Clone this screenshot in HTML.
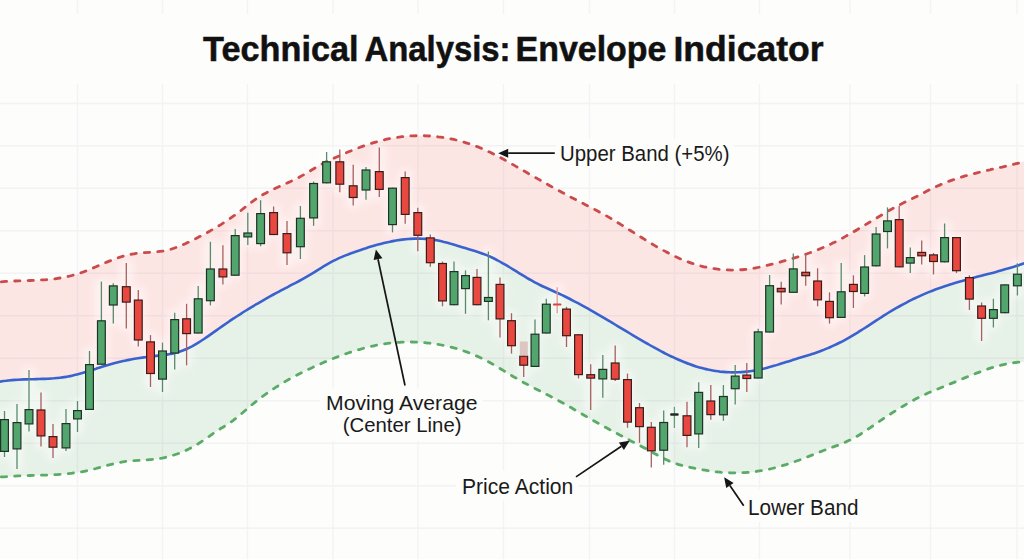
<!DOCTYPE html>
<html><head><meta charset="utf-8"><style>
html,body{margin:0;padding:0;width:1024px;height:559px;overflow:hidden;background:#fdfdfc;}
svg{display:block;}
</style></head><body>
<svg width="1024" height="559" viewBox="0 0 1024 559">
<rect width="1024" height="559" fill="#fdfdfc"/>
<path d="M-12.0 283.3 C-10.0 283.0 -8.0 282.7 -6.0 282.5 C-4.0 282.2 -2.0 282.0 0.0 281.9 C2.0 281.7 4.0 281.6 6.0 281.4 C8.0 281.3 10.0 281.2 12.0 281.1 C14.0 281.0 16.0 281.0 18.0 280.9 C20.0 280.8 22.0 280.8 24.0 280.7 C26.0 280.6 28.0 280.6 30.0 280.5 C32.0 280.4 34.0 280.4 36.0 280.3 C38.0 280.2 40.0 280.1 42.0 279.9 C44.0 279.8 46.0 279.7 48.0 279.5 C50.0 279.3 52.0 279.1 54.0 278.9 C56.0 278.6 58.0 278.3 60.0 278.0 C62.0 277.7 64.0 277.3 66.0 276.9 C68.0 276.5 70.0 276.1 72.0 275.5 C74.0 275.0 76.0 274.4 78.0 273.8 C80.0 273.2 82.0 272.5 84.0 271.7 C86.0 271.0 88.0 270.1 90.0 269.3 C92.0 268.5 94.0 267.6 96.0 266.8 C98.0 265.9 100.0 265.0 102.0 264.2 C104.0 263.3 106.0 262.4 108.0 261.6 C110.0 260.8 112.0 260.0 114.0 259.2 C116.0 258.5 118.0 257.8 120.0 257.2 C122.0 256.5 124.0 255.9 126.0 255.4 C128.0 254.9 130.0 254.4 132.0 254.1 C134.0 253.7 136.0 253.4 138.0 253.1 C140.0 252.9 142.0 252.7 144.0 252.6 C146.0 252.5 148.0 252.4 150.0 252.3 C152.0 252.1 154.0 252.1 156.0 251.9 C158.0 251.7 160.0 251.5 162.0 251.2 C164.0 250.9 166.0 250.5 168.0 250.0 C170.0 249.5 172.0 248.9 174.0 248.2 C176.0 247.5 178.0 246.8 180.0 246.0 C182.0 245.2 184.0 244.3 186.0 243.4 C188.0 242.5 190.0 241.5 192.0 240.6 C194.0 239.6 196.0 238.5 198.0 237.5 C200.0 236.5 202.0 235.4 204.0 234.3 C206.0 233.2 208.0 232.1 210.0 231.0 C212.0 229.9 214.0 228.7 216.0 227.5 C218.0 226.3 220.0 225.1 222.0 223.8 C224.0 222.5 226.0 221.2 228.0 219.9 C230.0 218.5 232.0 217.1 234.0 215.7 C236.0 214.3 238.0 212.8 240.0 211.3 C242.0 209.7 244.0 208.1 246.0 206.5 C248.0 205.0 250.0 203.3 252.0 201.8 C254.0 200.4 256.0 198.9 258.0 197.6 C260.0 196.3 262.0 195.2 264.0 194.0 C266.0 192.9 268.0 191.9 270.0 190.8 C272.0 189.8 274.0 188.9 276.0 188.0 C278.0 187.1 280.0 186.2 282.0 185.3 C284.0 184.4 286.0 183.5 288.0 182.6 C290.0 181.7 292.0 180.8 294.0 179.8 C296.0 178.9 298.0 177.9 300.0 176.8 C302.0 175.7 304.0 174.6 306.0 173.4 C308.0 172.3 310.0 171.0 312.0 169.8 C314.0 168.6 316.0 167.4 318.0 166.3 C320.0 165.1 322.0 164.0 324.0 163.0 C326.0 161.9 328.0 161.0 330.0 160.0 C332.0 159.1 334.0 158.2 336.0 157.3 C338.0 156.3 340.0 155.5 342.0 154.6 C344.0 153.7 346.0 152.9 348.0 152.0 C350.0 151.2 352.0 150.4 354.0 149.6 C356.0 148.8 358.0 148.0 360.0 147.3 C362.0 146.5 364.0 145.8 366.0 145.1 C368.0 144.5 370.0 143.8 372.0 143.2 C374.0 142.6 376.0 142.0 378.0 141.4 C380.0 140.9 382.0 140.4 384.0 139.9 C386.0 139.4 388.0 139.0 390.0 138.6 C392.0 138.2 394.0 137.9 396.0 137.5 C398.0 137.2 400.0 137.0 402.0 136.7 C404.0 136.5 406.0 136.3 408.0 136.1 C410.0 136.0 412.0 135.9 414.0 135.8 C416.0 135.7 418.0 135.7 420.0 135.7 C422.0 135.7 424.0 135.7 426.0 135.8 C428.0 135.9 430.0 136.0 432.0 136.2 C434.0 136.3 436.0 136.5 438.0 136.8 C440.0 137.0 442.0 137.3 444.0 137.6 C446.0 137.9 448.0 138.3 450.0 138.7 C452.0 139.1 454.0 139.5 456.0 140.0 C458.0 140.5 460.0 141.0 462.0 141.5 C464.0 142.1 466.0 142.7 468.0 143.4 C470.0 144.0 472.0 144.7 474.0 145.5 C476.0 146.2 478.0 147.0 480.0 147.8 C482.0 148.6 484.0 149.5 486.0 150.4 C488.0 151.4 490.0 152.3 492.0 153.3 C494.0 154.3 496.0 155.3 498.0 156.4 C500.0 157.4 502.0 158.5 504.0 159.6 C506.0 160.7 508.0 161.8 510.0 162.9 C512.0 164.1 514.0 165.2 516.0 166.4 C518.0 167.5 520.0 168.7 522.0 169.8 C524.0 171.0 526.0 172.1 528.0 173.3 C530.0 174.4 532.0 175.6 534.0 176.7 C536.0 177.8 538.0 179.0 540.0 180.1 C542.0 181.3 544.0 182.4 546.0 183.5 C548.0 184.6 550.0 185.8 552.0 186.9 C554.0 188.0 556.0 189.1 558.0 190.2 C560.0 191.3 562.0 192.4 564.0 193.4 C566.0 194.5 568.0 195.6 570.0 196.7 C572.0 197.7 574.0 198.8 576.0 199.8 C578.0 200.9 580.0 201.9 582.0 202.9 C584.0 203.9 586.0 205.0 588.0 206.0 C590.0 207.0 592.0 208.0 594.0 209.1 C596.0 210.1 598.0 211.2 600.0 212.3 C602.0 213.4 604.0 214.5 606.0 215.6 C608.0 216.8 610.0 218.0 612.0 219.1 C614.0 220.3 616.0 221.6 618.0 222.8 C620.0 224.0 622.0 225.3 624.0 226.5 C626.0 227.7 628.0 229.0 630.0 230.3 C632.0 231.5 634.0 232.8 636.0 234.0 C638.0 235.3 640.0 236.6 642.0 237.8 C644.0 239.0 646.0 240.3 648.0 241.5 C650.0 242.7 652.0 243.9 654.0 245.1 C656.0 246.3 658.0 247.4 660.0 248.5 C662.0 249.7 664.0 250.8 666.0 251.8 C668.0 252.9 670.0 253.9 672.0 254.9 C674.0 255.9 676.0 256.9 678.0 257.8 C680.0 258.7 682.0 259.6 684.0 260.4 C686.0 261.2 688.0 261.9 690.0 262.6 C692.0 263.4 694.0 264.0 696.0 264.6 C698.0 265.2 700.0 265.8 702.0 266.3 C704.0 266.8 706.0 267.2 708.0 267.6 C710.0 268.0 712.0 268.4 714.0 268.7 C716.0 269.0 718.0 269.2 720.0 269.4 C722.0 269.6 724.0 269.8 726.0 269.9 C728.0 270.0 730.0 270.1 732.0 270.1 C734.0 270.1 736.0 270.0 738.0 269.9 C740.0 269.8 742.0 269.7 744.0 269.5 C746.0 269.3 748.0 269.1 750.0 268.8 C752.0 268.5 754.0 268.2 756.0 267.8 C758.0 267.5 760.0 267.1 762.0 266.6 C764.0 266.2 766.0 265.7 768.0 265.2 C770.0 264.7 772.0 264.2 774.0 263.7 C776.0 263.2 778.0 262.6 780.0 262.1 C782.0 261.5 784.0 260.9 786.0 260.4 C788.0 259.8 790.0 259.2 792.0 258.6 C794.0 258.0 796.0 257.4 798.0 256.8 C800.0 256.1 802.0 255.5 804.0 254.8 C806.0 254.1 808.0 253.4 810.0 252.7 C812.0 252.0 814.0 251.2 816.0 250.4 C818.0 249.7 820.0 248.9 822.0 248.0 C824.0 247.2 826.0 246.3 828.0 245.4 C830.0 244.4 832.0 243.5 834.0 242.5 C836.0 241.5 838.0 240.5 840.0 239.4 C842.0 238.4 844.0 237.3 846.0 236.1 C848.0 235.0 850.0 233.9 852.0 232.7 C854.0 231.6 856.0 230.4 858.0 229.2 C860.0 228.0 862.0 226.8 864.0 225.6 C866.0 224.4 868.0 223.2 870.0 222.0 C872.0 220.8 874.0 219.6 876.0 218.4 C878.0 217.2 880.0 216.0 882.0 214.8 C884.0 213.6 886.0 212.4 888.0 211.2 C890.0 210.1 892.0 208.9 894.0 207.8 C896.0 206.7 898.0 205.7 900.0 204.6 C902.0 203.6 904.0 202.6 906.0 201.6 C908.0 200.7 910.0 199.7 912.0 198.7 C914.0 197.8 916.0 196.8 918.0 195.8 C920.0 194.8 922.0 193.7 924.0 192.7 C926.0 191.6 928.0 190.5 930.0 189.5 C932.0 188.5 934.0 187.5 936.0 186.6 C938.0 185.7 940.0 184.8 942.0 184.0 C944.0 183.1 946.0 182.4 948.0 181.6 C950.0 180.9 952.0 180.1 954.0 179.5 C956.0 178.8 958.0 178.1 960.0 177.5 C962.0 176.9 964.0 176.3 966.0 175.7 C968.0 175.2 970.0 174.6 972.0 174.1 C974.0 173.6 976.0 173.1 978.0 172.6 C980.0 172.1 982.0 171.6 984.0 171.2 C986.0 170.7 988.0 170.2 990.0 169.8 C992.0 169.3 994.0 168.9 996.0 168.4 C998.0 168.0 1000.0 167.5 1002.0 167.1 C1004.0 166.6 1006.0 166.2 1008.0 165.7 C1010.0 165.2 1012.0 164.7 1014.0 164.2 C1016.0 163.7 1018.0 163.2 1020.0 162.7 C1022.0 162.1 1024.0 161.6 1026.0 161.0 C1028.0 160.4 1030.0 159.8 1032.0 159.2 L1032.0 260.5 C1030.0 261.2 1028.0 262.0 1026.0 262.7 C1024.0 263.4 1022.0 264.1 1020.0 264.7 C1018.0 265.4 1016.0 266.0 1014.0 266.7 C1012.0 267.3 1010.0 267.9 1008.0 268.5 C1006.0 269.1 1004.0 269.6 1002.0 270.2 C1000.0 270.8 998.0 271.3 996.0 271.9 C994.0 272.4 992.0 272.9 990.0 273.5 C988.0 274.0 986.0 274.5 984.0 275.0 C982.0 275.6 980.0 276.1 978.0 276.6 C976.0 277.2 974.0 277.7 972.0 278.2 C970.0 278.8 968.0 279.3 966.0 279.9 C964.0 280.4 962.0 281.0 960.0 281.5 C958.0 282.1 956.0 282.7 954.0 283.3 C952.0 283.9 950.0 284.6 948.0 285.2 C946.0 285.8 944.0 286.5 942.0 287.2 C940.0 287.9 938.0 288.6 936.0 289.3 C934.0 290.1 932.0 290.8 930.0 291.6 C928.0 292.4 926.0 293.3 924.0 294.1 C922.0 295.0 920.0 295.9 918.0 296.8 C916.0 297.8 914.0 298.7 912.0 299.7 C910.0 300.7 908.0 301.7 906.0 302.8 C904.0 303.8 902.0 304.9 900.0 306.0 C898.0 307.1 896.0 308.3 894.0 309.4 C892.0 310.6 890.0 311.8 888.0 313.0 C886.0 314.3 884.0 315.5 882.0 316.8 C880.0 318.1 878.0 319.4 876.0 320.7 C874.0 322.0 872.0 323.3 870.0 324.6 C868.0 325.9 866.0 327.2 864.0 328.5 C862.0 329.8 860.0 331.0 858.0 332.3 C856.0 333.5 854.0 334.7 852.0 335.9 C850.0 337.1 848.0 338.2 846.0 339.3 C844.0 340.4 842.0 341.5 840.0 342.5 C838.0 343.5 836.0 344.5 834.0 345.4 C832.0 346.4 830.0 347.2 828.0 348.1 C826.0 348.9 824.0 349.8 822.0 350.5 C820.0 351.3 818.0 352.0 816.0 352.7 C814.0 353.4 812.0 354.0 810.0 354.7 C808.0 355.3 806.0 355.9 804.0 356.5 C802.0 357.1 800.0 357.7 798.0 358.3 C796.0 358.9 794.0 359.6 792.0 360.2 C790.0 360.8 788.0 361.5 786.0 362.1 C784.0 362.7 782.0 363.4 780.0 364.0 C778.0 364.6 776.0 365.3 774.0 365.8 C772.0 366.4 770.0 367.0 768.0 367.5 C766.0 368.1 764.0 368.6 762.0 369.1 C760.0 369.5 758.0 369.9 756.0 370.3 C754.0 370.7 752.0 371.0 750.0 371.3 C748.0 371.6 746.0 371.8 744.0 371.9 C742.0 372.1 740.0 372.2 738.0 372.3 C736.0 372.4 734.0 372.4 732.0 372.4 C730.0 372.3 728.0 372.3 726.0 372.1 C724.0 372.0 722.0 371.8 720.0 371.6 C718.0 371.3 716.0 371.1 714.0 370.7 C712.0 370.4 710.0 370.0 708.0 369.6 C706.0 369.1 704.0 368.7 702.0 368.1 C700.0 367.6 698.0 367.0 696.0 366.4 C694.0 365.8 692.0 365.1 690.0 364.3 C688.0 363.6 686.0 362.8 684.0 362.0 C682.0 361.2 680.0 360.4 678.0 359.5 C676.0 358.6 674.0 357.7 672.0 356.7 C670.0 355.8 668.0 354.8 666.0 353.8 C664.0 352.8 662.0 351.7 660.0 350.7 C658.0 349.6 656.0 348.5 654.0 347.4 C652.0 346.3 650.0 345.2 648.0 344.0 C646.0 342.9 644.0 341.8 642.0 340.6 C640.0 339.4 638.0 338.3 636.0 337.1 C634.0 335.9 632.0 334.7 630.0 333.5 C628.0 332.3 626.0 331.1 624.0 329.9 C622.0 328.7 620.0 327.5 618.0 326.3 C616.0 325.1 614.0 323.9 612.0 322.7 C610.0 321.5 608.0 320.4 606.0 319.2 C604.0 318.0 602.0 316.8 600.0 315.6 C598.0 314.5 596.0 313.3 594.0 312.1 C592.0 311.0 590.0 309.9 588.0 308.7 C586.0 307.6 584.0 306.5 582.0 305.4 C580.0 304.3 578.0 303.2 576.0 302.2 C574.0 301.1 572.0 300.1 570.0 299.0 C568.0 298.0 566.0 297.0 564.0 296.0 C562.0 295.1 560.0 294.1 558.0 293.2 C556.0 292.3 554.0 291.4 552.0 290.5 C550.0 289.6 548.0 288.7 546.0 287.8 C544.0 286.9 542.0 286.0 540.0 285.0 C538.0 284.0 536.0 282.9 534.0 281.9 C532.0 280.8 530.0 279.6 528.0 278.5 C526.0 277.3 524.0 276.1 522.0 274.9 C520.0 273.7 518.0 272.4 516.0 271.2 C514.0 270.0 512.0 268.7 510.0 267.5 C508.0 266.3 506.0 265.1 504.0 263.9 C502.0 262.8 500.0 261.6 498.0 260.6 C496.0 259.5 494.0 258.5 492.0 257.5 C490.0 256.6 488.0 255.7 486.0 254.9 C484.0 254.1 482.0 253.4 480.0 252.7 C478.0 252.0 476.0 251.3 474.0 250.7 C472.0 250.1 470.0 249.5 468.0 248.9 C466.0 248.3 464.0 247.8 462.0 247.2 C460.0 246.6 458.0 245.9 456.0 245.3 C454.0 244.7 452.0 244.1 450.0 243.6 C448.0 243.0 446.0 242.4 444.0 242.0 C442.0 241.5 440.0 241.0 438.0 240.6 C436.0 240.2 434.0 239.8 432.0 239.6 C430.0 239.3 428.0 239.1 426.0 238.9 C424.0 238.7 422.0 238.7 420.0 238.6 C418.0 238.6 416.0 238.6 414.0 238.6 C412.0 238.7 410.0 238.8 408.0 239.0 C406.0 239.2 404.0 239.4 402.0 239.6 C400.0 239.9 398.0 240.2 396.0 240.5 C394.0 240.9 392.0 241.2 390.0 241.7 C388.0 242.1 386.0 242.5 384.0 243.0 C382.0 243.5 380.0 244.0 378.0 244.6 C376.0 245.1 374.0 245.7 372.0 246.3 C370.0 246.9 368.0 247.5 366.0 248.2 C364.0 248.8 362.0 249.5 360.0 250.2 C358.0 250.8 356.0 251.5 354.0 252.3 C352.0 253.0 350.0 253.7 348.0 254.5 C346.0 255.2 344.0 256.0 342.0 256.9 C340.0 257.7 338.0 258.6 336.0 259.6 C334.0 260.5 332.0 261.5 330.0 262.7 C328.0 263.8 326.0 265.0 324.0 266.2 C322.0 267.4 320.0 268.7 318.0 269.9 C316.0 271.2 314.0 272.5 312.0 273.7 C310.0 274.9 308.0 276.1 306.0 277.2 C304.0 278.4 302.0 279.5 300.0 280.5 C298.0 281.6 296.0 282.6 294.0 283.7 C292.0 284.7 290.0 285.7 288.0 286.8 C286.0 287.8 284.0 288.9 282.0 289.9 C280.0 291.0 278.0 292.1 276.0 293.1 C274.0 294.2 272.0 295.3 270.0 296.4 C268.0 297.5 266.0 298.7 264.0 299.8 C262.0 300.9 260.0 302.1 258.0 303.3 C256.0 304.4 254.0 305.6 252.0 306.8 C250.0 308.0 248.0 309.2 246.0 310.5 C244.0 311.7 242.0 313.0 240.0 314.3 C238.0 315.5 236.0 316.8 234.0 318.2 C232.0 319.5 230.0 320.8 228.0 322.2 C226.0 323.6 224.0 325.0 222.0 326.4 C220.0 327.8 218.0 329.2 216.0 330.6 C214.0 332.1 212.0 333.5 210.0 334.9 C208.0 336.3 206.0 337.7 204.0 339.0 C202.0 340.3 200.0 341.6 198.0 342.8 C196.0 344.0 194.0 345.2 192.0 346.3 C190.0 347.3 188.0 348.3 186.0 349.2 C184.0 350.1 182.0 350.9 180.0 351.5 C178.0 352.2 176.0 352.7 174.0 353.2 C172.0 353.7 170.0 354.0 168.0 354.4 C166.0 354.7 164.0 354.9 162.0 355.2 C160.0 355.5 158.0 355.7 156.0 355.9 C154.0 356.2 152.0 356.4 150.0 356.7 C148.0 356.9 146.0 357.2 144.0 357.4 C142.0 357.7 140.0 358.0 138.0 358.3 C136.0 358.6 134.0 358.9 132.0 359.3 C130.0 359.7 128.0 360.0 126.0 360.4 C124.0 360.8 122.0 361.3 120.0 361.7 C118.0 362.2 116.0 362.7 114.0 363.2 C112.0 363.8 110.0 364.4 108.0 365.0 C106.0 365.6 104.0 366.2 102.0 366.8 C100.0 367.5 98.0 368.1 96.0 368.8 C94.0 369.4 92.0 370.1 90.0 370.7 C88.0 371.4 86.0 372.0 84.0 372.6 C82.0 373.2 80.0 373.8 78.0 374.3 C76.0 374.8 74.0 375.3 72.0 375.7 C70.0 376.2 68.0 376.5 66.0 376.9 C64.0 377.2 62.0 377.5 60.0 377.7 C58.0 377.9 56.0 378.1 54.0 378.3 C52.0 378.4 50.0 378.6 48.0 378.7 C46.0 378.8 44.0 378.9 42.0 378.9 C40.0 379.0 38.0 379.0 36.0 379.1 C34.0 379.2 32.0 379.2 30.0 379.3 C28.0 379.3 26.0 379.4 24.0 379.4 C22.0 379.5 20.0 379.6 18.0 379.7 C16.0 379.8 14.0 380.0 12.0 380.1 C10.0 380.3 8.0 380.5 6.0 380.8 C4.0 381.0 2.0 381.3 0.0 381.6 C-2.0 382.0 -4.0 382.4 -6.0 382.8 C-8.0 383.3 -10.0 383.9 -12.0 384.4 Z" fill="#fce6e4"/>
<path d="M-12.0 384.4 C-10.0 383.9 -8.0 383.3 -6.0 382.8 C-4.0 382.4 -2.0 382.0 0.0 381.6 C2.0 381.3 4.0 381.0 6.0 380.8 C8.0 380.5 10.0 380.3 12.0 380.1 C14.0 380.0 16.0 379.8 18.0 379.7 C20.0 379.6 22.0 379.5 24.0 379.4 C26.0 379.4 28.0 379.3 30.0 379.3 C32.0 379.2 34.0 379.2 36.0 379.1 C38.0 379.0 40.0 379.0 42.0 378.9 C44.0 378.9 46.0 378.8 48.0 378.7 C50.0 378.6 52.0 378.4 54.0 378.3 C56.0 378.1 58.0 377.9 60.0 377.7 C62.0 377.5 64.0 377.2 66.0 376.9 C68.0 376.5 70.0 376.2 72.0 375.7 C74.0 375.3 76.0 374.8 78.0 374.3 C80.0 373.8 82.0 373.2 84.0 372.6 C86.0 372.0 88.0 371.4 90.0 370.7 C92.0 370.1 94.0 369.4 96.0 368.8 C98.0 368.1 100.0 367.5 102.0 366.8 C104.0 366.2 106.0 365.6 108.0 365.0 C110.0 364.4 112.0 363.8 114.0 363.2 C116.0 362.7 118.0 362.2 120.0 361.7 C122.0 361.3 124.0 360.8 126.0 360.4 C128.0 360.0 130.0 359.7 132.0 359.3 C134.0 358.9 136.0 358.6 138.0 358.3 C140.0 358.0 142.0 357.7 144.0 357.4 C146.0 357.2 148.0 356.9 150.0 356.7 C152.0 356.4 154.0 356.2 156.0 355.9 C158.0 355.7 160.0 355.5 162.0 355.2 C164.0 354.9 166.0 354.7 168.0 354.4 C170.0 354.0 172.0 353.7 174.0 353.2 C176.0 352.7 178.0 352.2 180.0 351.5 C182.0 350.9 184.0 350.1 186.0 349.2 C188.0 348.3 190.0 347.3 192.0 346.3 C194.0 345.2 196.0 344.0 198.0 342.8 C200.0 341.6 202.0 340.3 204.0 339.0 C206.0 337.7 208.0 336.3 210.0 334.9 C212.0 333.5 214.0 332.1 216.0 330.6 C218.0 329.2 220.0 327.8 222.0 326.4 C224.0 325.0 226.0 323.6 228.0 322.2 C230.0 320.8 232.0 319.5 234.0 318.2 C236.0 316.8 238.0 315.5 240.0 314.3 C242.0 313.0 244.0 311.7 246.0 310.5 C248.0 309.2 250.0 308.0 252.0 306.8 C254.0 305.6 256.0 304.4 258.0 303.3 C260.0 302.1 262.0 300.9 264.0 299.8 C266.0 298.7 268.0 297.5 270.0 296.4 C272.0 295.3 274.0 294.2 276.0 293.1 C278.0 292.1 280.0 291.0 282.0 289.9 C284.0 288.9 286.0 287.8 288.0 286.8 C290.0 285.7 292.0 284.7 294.0 283.7 C296.0 282.6 298.0 281.6 300.0 280.5 C302.0 279.5 304.0 278.4 306.0 277.2 C308.0 276.1 310.0 274.9 312.0 273.7 C314.0 272.5 316.0 271.2 318.0 269.9 C320.0 268.7 322.0 267.4 324.0 266.2 C326.0 265.0 328.0 263.8 330.0 262.7 C332.0 261.5 334.0 260.5 336.0 259.6 C338.0 258.6 340.0 257.7 342.0 256.9 C344.0 256.0 346.0 255.2 348.0 254.5 C350.0 253.7 352.0 253.0 354.0 252.3 C356.0 251.5 358.0 250.8 360.0 250.2 C362.0 249.5 364.0 248.8 366.0 248.2 C368.0 247.5 370.0 246.9 372.0 246.3 C374.0 245.7 376.0 245.1 378.0 244.6 C380.0 244.0 382.0 243.5 384.0 243.0 C386.0 242.5 388.0 242.1 390.0 241.7 C392.0 241.2 394.0 240.9 396.0 240.5 C398.0 240.2 400.0 239.9 402.0 239.6 C404.0 239.4 406.0 239.2 408.0 239.0 C410.0 238.8 412.0 238.7 414.0 238.6 C416.0 238.6 418.0 238.6 420.0 238.6 C422.0 238.7 424.0 238.7 426.0 238.9 C428.0 239.1 430.0 239.3 432.0 239.6 C434.0 239.8 436.0 240.2 438.0 240.6 C440.0 241.0 442.0 241.5 444.0 242.0 C446.0 242.4 448.0 243.0 450.0 243.6 C452.0 244.1 454.0 244.7 456.0 245.3 C458.0 245.9 460.0 246.6 462.0 247.2 C464.0 247.8 466.0 248.3 468.0 248.9 C470.0 249.5 472.0 250.1 474.0 250.7 C476.0 251.3 478.0 252.0 480.0 252.7 C482.0 253.4 484.0 254.1 486.0 254.9 C488.0 255.7 490.0 256.6 492.0 257.5 C494.0 258.5 496.0 259.5 498.0 260.6 C500.0 261.6 502.0 262.8 504.0 263.9 C506.0 265.1 508.0 266.3 510.0 267.5 C512.0 268.7 514.0 270.0 516.0 271.2 C518.0 272.4 520.0 273.7 522.0 274.9 C524.0 276.1 526.0 277.3 528.0 278.5 C530.0 279.6 532.0 280.8 534.0 281.9 C536.0 282.9 538.0 284.0 540.0 285.0 C542.0 286.0 544.0 286.9 546.0 287.8 C548.0 288.7 550.0 289.6 552.0 290.5 C554.0 291.4 556.0 292.3 558.0 293.2 C560.0 294.1 562.0 295.1 564.0 296.0 C566.0 297.0 568.0 298.0 570.0 299.0 C572.0 300.1 574.0 301.1 576.0 302.2 C578.0 303.2 580.0 304.3 582.0 305.4 C584.0 306.5 586.0 307.6 588.0 308.7 C590.0 309.9 592.0 311.0 594.0 312.1 C596.0 313.3 598.0 314.5 600.0 315.6 C602.0 316.8 604.0 318.0 606.0 319.2 C608.0 320.4 610.0 321.5 612.0 322.7 C614.0 323.9 616.0 325.1 618.0 326.3 C620.0 327.5 622.0 328.7 624.0 329.9 C626.0 331.1 628.0 332.3 630.0 333.5 C632.0 334.7 634.0 335.9 636.0 337.1 C638.0 338.3 640.0 339.4 642.0 340.6 C644.0 341.8 646.0 342.9 648.0 344.0 C650.0 345.2 652.0 346.3 654.0 347.4 C656.0 348.5 658.0 349.6 660.0 350.7 C662.0 351.7 664.0 352.8 666.0 353.8 C668.0 354.8 670.0 355.8 672.0 356.7 C674.0 357.7 676.0 358.6 678.0 359.5 C680.0 360.4 682.0 361.2 684.0 362.0 C686.0 362.8 688.0 363.6 690.0 364.3 C692.0 365.1 694.0 365.8 696.0 366.4 C698.0 367.0 700.0 367.6 702.0 368.1 C704.0 368.7 706.0 369.1 708.0 369.6 C710.0 370.0 712.0 370.4 714.0 370.7 C716.0 371.1 718.0 371.3 720.0 371.6 C722.0 371.8 724.0 372.0 726.0 372.1 C728.0 372.3 730.0 372.3 732.0 372.4 C734.0 372.4 736.0 372.4 738.0 372.3 C740.0 372.2 742.0 372.1 744.0 371.9 C746.0 371.8 748.0 371.6 750.0 371.3 C752.0 371.0 754.0 370.7 756.0 370.3 C758.0 369.9 760.0 369.5 762.0 369.1 C764.0 368.6 766.0 368.1 768.0 367.5 C770.0 367.0 772.0 366.4 774.0 365.8 C776.0 365.3 778.0 364.6 780.0 364.0 C782.0 363.4 784.0 362.7 786.0 362.1 C788.0 361.5 790.0 360.8 792.0 360.2 C794.0 359.6 796.0 358.9 798.0 358.3 C800.0 357.7 802.0 357.1 804.0 356.5 C806.0 355.9 808.0 355.3 810.0 354.7 C812.0 354.0 814.0 353.4 816.0 352.7 C818.0 352.0 820.0 351.3 822.0 350.5 C824.0 349.8 826.0 348.9 828.0 348.1 C830.0 347.2 832.0 346.4 834.0 345.4 C836.0 344.5 838.0 343.5 840.0 342.5 C842.0 341.5 844.0 340.4 846.0 339.3 C848.0 338.2 850.0 337.1 852.0 335.9 C854.0 334.7 856.0 333.5 858.0 332.3 C860.0 331.0 862.0 329.8 864.0 328.5 C866.0 327.2 868.0 325.9 870.0 324.6 C872.0 323.3 874.0 322.0 876.0 320.7 C878.0 319.4 880.0 318.1 882.0 316.8 C884.0 315.5 886.0 314.3 888.0 313.0 C890.0 311.8 892.0 310.6 894.0 309.4 C896.0 308.3 898.0 307.1 900.0 306.0 C902.0 304.9 904.0 303.8 906.0 302.8 C908.0 301.7 910.0 300.7 912.0 299.7 C914.0 298.7 916.0 297.8 918.0 296.8 C920.0 295.9 922.0 295.0 924.0 294.1 C926.0 293.3 928.0 292.4 930.0 291.6 C932.0 290.8 934.0 290.1 936.0 289.3 C938.0 288.6 940.0 287.9 942.0 287.2 C944.0 286.5 946.0 285.8 948.0 285.2 C950.0 284.6 952.0 283.9 954.0 283.3 C956.0 282.7 958.0 282.1 960.0 281.5 C962.0 281.0 964.0 280.4 966.0 279.9 C968.0 279.3 970.0 278.8 972.0 278.2 C974.0 277.7 976.0 277.2 978.0 276.6 C980.0 276.1 982.0 275.6 984.0 275.0 C986.0 274.5 988.0 274.0 990.0 273.5 C992.0 272.9 994.0 272.4 996.0 271.9 C998.0 271.3 1000.0 270.8 1002.0 270.2 C1004.0 269.6 1006.0 269.1 1008.0 268.5 C1010.0 267.9 1012.0 267.3 1014.0 266.7 C1016.0 266.0 1018.0 265.4 1020.0 264.7 C1022.0 264.1 1024.0 263.4 1026.0 262.7 C1028.0 262.0 1030.0 261.2 1032.0 260.5 L1032.0 362.2 C1030.0 362.1 1028.0 362.0 1026.0 361.9 C1024.0 361.9 1022.0 362.0 1020.0 362.1 C1018.0 362.2 1016.0 362.4 1014.0 362.7 C1012.0 362.9 1010.0 363.2 1008.0 363.6 C1006.0 364.0 1004.0 364.4 1002.0 364.9 C1000.0 365.4 998.0 365.9 996.0 366.5 C994.0 367.0 992.0 367.7 990.0 368.3 C988.0 368.9 986.0 369.6 984.0 370.3 C982.0 371.1 980.0 371.8 978.0 372.6 C976.0 373.3 974.0 374.1 972.0 374.9 C970.0 375.7 968.0 376.5 966.0 377.4 C964.0 378.2 962.0 379.0 960.0 379.9 C958.0 380.7 956.0 381.5 954.0 382.4 C952.0 383.2 950.0 384.0 948.0 384.8 C946.0 385.7 944.0 386.5 942.0 387.3 C940.0 388.1 938.0 388.9 936.0 389.7 C934.0 390.5 932.0 391.3 930.0 392.2 C928.0 393.1 926.0 393.9 924.0 394.9 C922.0 395.8 920.0 396.8 918.0 397.8 C916.0 398.8 914.0 399.9 912.0 401.0 C910.0 402.1 908.0 403.2 906.0 404.4 C904.0 405.5 902.0 406.8 900.0 408.0 C898.0 409.2 896.0 410.5 894.0 411.7 C892.0 413.0 890.0 414.3 888.0 415.6 C886.0 416.9 884.0 418.3 882.0 419.6 C880.0 421.0 878.0 422.4 876.0 423.7 C874.0 425.1 872.0 426.5 870.0 427.8 C868.0 429.2 866.0 430.6 864.0 431.9 C862.0 433.2 860.0 434.5 858.0 435.7 C856.0 436.9 854.0 438.0 852.0 439.0 C850.0 440.1 848.0 441.0 846.0 441.9 C844.0 442.8 842.0 443.6 840.0 444.4 C838.0 445.2 836.0 445.9 834.0 446.6 C832.0 447.4 830.0 448.1 828.0 448.8 C826.0 449.6 824.0 450.4 822.0 451.1 C820.0 451.9 818.0 452.7 816.0 453.5 C814.0 454.3 812.0 455.1 810.0 455.9 C808.0 456.7 806.0 457.5 804.0 458.2 C802.0 459.0 800.0 459.8 798.0 460.5 C796.0 461.2 794.0 461.9 792.0 462.6 C790.0 463.3 788.0 463.9 786.0 464.6 C784.0 465.2 782.0 465.8 780.0 466.4 C778.0 466.9 776.0 467.5 774.0 468.0 C772.0 468.5 770.0 469.0 768.0 469.4 C766.0 469.8 764.0 470.2 762.0 470.6 C760.0 470.9 758.0 471.2 756.0 471.5 C754.0 471.8 752.0 472.0 750.0 472.2 C748.0 472.4 746.0 472.5 744.0 472.6 C742.0 472.8 740.0 472.8 738.0 472.9 C736.0 472.9 734.0 472.9 732.0 472.9 C730.0 472.8 728.0 472.7 726.0 472.6 C724.0 472.5 722.0 472.4 720.0 472.2 C718.0 472.0 716.0 471.8 714.0 471.6 C712.0 471.3 710.0 471.0 708.0 470.7 C706.0 470.4 704.0 470.1 702.0 469.7 C700.0 469.4 698.0 469.0 696.0 468.6 C694.0 468.2 692.0 467.7 690.0 467.3 C688.0 466.9 686.0 466.4 684.0 465.9 C682.0 465.4 680.0 464.9 678.0 464.3 C676.0 463.7 674.0 463.0 672.0 462.2 C670.0 461.5 668.0 460.6 666.0 459.6 C664.0 458.7 662.0 457.6 660.0 456.5 C658.0 455.5 656.0 454.3 654.0 453.2 C652.0 452.1 650.0 451.0 648.0 449.9 C646.0 448.9 644.0 447.8 642.0 446.7 C640.0 445.6 638.0 444.6 636.0 443.5 C634.0 442.5 632.0 441.4 630.0 440.4 C628.0 439.3 626.0 438.3 624.0 437.2 C622.0 436.2 620.0 435.1 618.0 434.0 C616.0 433.0 614.0 431.9 612.0 430.9 C610.0 429.8 608.0 428.7 606.0 427.6 C604.0 426.5 602.0 425.4 600.0 424.3 C598.0 423.2 596.0 422.1 594.0 420.9 C592.0 419.8 590.0 418.6 588.0 417.5 C586.0 416.3 584.0 415.2 582.0 414.0 C580.0 412.8 578.0 411.7 576.0 410.5 C574.0 409.4 572.0 408.2 570.0 407.1 C568.0 405.9 566.0 404.8 564.0 403.7 C562.0 402.6 560.0 401.5 558.0 400.4 C556.0 399.3 554.0 398.2 552.0 397.2 C550.0 396.1 548.0 395.1 546.0 394.1 C544.0 393.1 542.0 392.0 540.0 391.0 C538.0 390.0 536.0 389.0 534.0 387.9 C532.0 386.9 530.0 385.9 528.0 384.8 C526.0 383.7 524.0 382.7 522.0 381.6 C520.0 380.4 518.0 379.3 516.0 378.1 C514.0 377.0 512.0 375.8 510.0 374.6 C508.0 373.4 506.0 372.1 504.0 370.9 C502.0 369.7 500.0 368.5 498.0 367.3 C496.0 366.1 494.0 365.0 492.0 363.8 C490.0 362.7 488.0 361.6 486.0 360.5 C484.0 359.5 482.0 358.5 480.0 357.5 C478.0 356.6 476.0 355.7 474.0 354.8 C472.0 354.0 470.0 353.2 468.0 352.4 C466.0 351.7 464.0 351.0 462.0 350.3 C460.0 349.6 458.0 349.0 456.0 348.4 C454.0 347.9 452.0 347.3 450.0 346.8 C448.0 346.4 446.0 345.9 444.0 345.5 C442.0 345.1 440.0 344.7 438.0 344.4 C436.0 344.1 434.0 343.8 432.0 343.5 C430.0 343.2 428.0 343.0 426.0 342.8 C424.0 342.6 422.0 342.5 420.0 342.4 C418.0 342.2 416.0 342.1 414.0 342.1 C412.0 342.0 410.0 342.0 408.0 342.0 C406.0 342.1 404.0 342.1 402.0 342.2 C400.0 342.3 398.0 342.4 396.0 342.6 C394.0 342.7 392.0 342.9 390.0 343.2 C388.0 343.4 386.0 343.7 384.0 344.0 C382.0 344.3 380.0 344.6 378.0 345.0 C376.0 345.3 374.0 345.8 372.0 346.2 C370.0 346.6 368.0 347.1 366.0 347.6 C364.0 348.1 362.0 348.7 360.0 349.3 C358.0 349.8 356.0 350.4 354.0 351.1 C352.0 351.7 350.0 352.4 348.0 353.0 C346.0 353.7 344.0 354.4 342.0 355.2 C340.0 355.9 338.0 356.7 336.0 357.4 C334.0 358.2 332.0 359.0 330.0 359.8 C328.0 360.6 326.0 361.5 324.0 362.3 C322.0 363.2 320.0 364.1 318.0 365.0 C316.0 365.8 314.0 366.7 312.0 367.7 C310.0 368.6 308.0 369.5 306.0 370.5 C304.0 371.5 302.0 372.5 300.0 373.5 C298.0 374.5 296.0 375.5 294.0 376.6 C292.0 377.7 290.0 378.8 288.0 379.9 C286.0 381.1 284.0 382.2 282.0 383.4 C280.0 384.7 278.0 385.9 276.0 387.2 C274.0 388.5 272.0 389.8 270.0 391.2 C268.0 392.5 266.0 393.9 264.0 395.4 C262.0 396.8 260.0 398.3 258.0 399.9 C256.0 401.4 254.0 403.0 252.0 404.7 C250.0 406.3 248.0 408.1 246.0 409.8 C244.0 411.5 242.0 413.3 240.0 414.9 C238.0 416.6 236.0 418.3 234.0 419.8 C232.0 421.3 230.0 422.7 228.0 424.0 C226.0 425.3 224.0 426.5 222.0 427.8 C220.0 429.0 218.0 430.3 216.0 431.6 C214.0 432.9 212.0 434.4 210.0 435.8 C208.0 437.2 206.0 438.6 204.0 440.0 C202.0 441.4 200.0 442.7 198.0 443.9 C196.0 445.2 194.0 446.3 192.0 447.4 C190.0 448.5 188.0 449.5 186.0 450.4 C184.0 451.3 182.0 452.1 180.0 452.9 C178.0 453.7 176.0 454.4 174.0 455.0 C172.0 455.6 170.0 456.2 168.0 456.7 C166.0 457.2 164.0 457.7 162.0 458.1 C160.0 458.4 158.0 458.8 156.0 459.0 C154.0 459.3 152.0 459.5 150.0 459.7 C148.0 459.9 146.0 460.0 144.0 460.1 C142.0 460.2 140.0 460.3 138.0 460.4 C136.0 460.5 134.0 460.6 132.0 460.8 C130.0 461.0 128.0 461.1 126.0 461.4 C124.0 461.7 122.0 462.0 120.0 462.4 C118.0 462.8 116.0 463.2 114.0 463.7 C112.0 464.2 110.0 464.7 108.0 465.2 C106.0 465.8 104.0 466.3 102.0 466.9 C100.0 467.4 98.0 468.0 96.0 468.5 C94.0 469.0 92.0 469.5 90.0 470.0 C88.0 470.5 86.0 470.9 84.0 471.3 C82.0 471.7 80.0 472.0 78.0 472.3 C76.0 472.7 74.0 472.9 72.0 473.2 C70.0 473.4 68.0 473.6 66.0 473.8 C64.0 474.0 62.0 474.2 60.0 474.3 C58.0 474.5 56.0 474.6 54.0 474.7 C52.0 474.8 50.0 474.9 48.0 475.0 C46.0 475.1 44.0 475.1 42.0 475.2 C40.0 475.2 38.0 475.3 36.0 475.3 C34.0 475.4 32.0 475.4 30.0 475.5 C28.0 475.6 26.0 475.6 24.0 475.7 C22.0 475.7 20.0 475.8 18.0 475.9 C16.0 476.0 14.0 476.1 12.0 476.2 C10.0 476.3 8.0 476.4 6.0 476.6 C4.0 476.7 2.0 476.9 0.0 477.1 C-2.0 477.3 -4.0 477.5 -6.0 477.7 C-8.0 478.0 -10.0 478.3 -12.0 478.6 Z" fill="#e6f1e7"/>
<path d="M77.5 0V14M77.5 84V559M162.5 0V14M162.5 84V559M247.5 0V14M247.5 84V559M333 0V14M333 84V559M418 0V14M418 84V559M503.5 0V14M503.5 84V559M589.5 0V14M589.5 84V559M674.5 0V14M674.5 84V559M759.5 0V14M759.5 84V559M850 0V14M850 84V559M930.5 0V14M930.5 84V559M1017 0V14M1017 84V559M0 103.5H1024M0 145.8H1024M0 188.2H1024M0 230.7H1024M0 273.2H1024M0 315.7H1024M0 358.2H1024M0 400.7H1024M0 443.2H1024M0 485.8H1024M0 528.3H1024" stroke="#503a70" stroke-opacity="0.055" stroke-width="1.4" fill="none"/>
<defs><filter id="gf" x="-50%" y="-50%" width="200%" height="200%"><feGaussianBlur stdDeviation="3.5"/></filter></defs>
<g fill="#fff" opacity="0.45" filter="url(#gf)"><rect x="-2.5" y="408.0" width="14" height="52.0" rx="5"/><rect x="10.0" y="401.0" width="14" height="71.0" rx="5"/><rect x="22.0" y="367.0" width="14" height="67.5" rx="5"/><rect x="34.0" y="389.6" width="14" height="59.9" rx="5"/><rect x="46.0" y="421.0" width="14" height="40.0" rx="5"/><rect x="59.0" y="406.0" width="14" height="48.0" rx="5"/><rect x="70.5" y="398.0" width="14" height="37.0" rx="5"/><rect x="82.5" y="348.0" width="14" height="65.0" rx="5"/><rect x="94.4" y="278.6" width="14" height="89.2" rx="5"/><rect x="106.3" y="280.3" width="14" height="46.1" rx="5"/><rect x="119.3" y="260.0" width="14" height="71.5" rx="5"/><rect x="131.3" y="287.0" width="14" height="62.6" rx="5"/><rect x="143.5" y="332.1" width="14" height="57.9" rx="5"/><rect x="155.5" y="339.6" width="14" height="55.4" rx="5"/><rect x="167.7" y="309.8" width="14" height="62.8" rx="5"/><rect x="179.6" y="300.8" width="14" height="67.5" rx="5"/><rect x="191.2" y="283.0" width="14" height="53.6" rx="5"/><rect x="203.4" y="238.8" width="14" height="69.6" rx="5"/><rect x="215.9" y="242.2" width="14" height="45.2" rx="5"/><rect x="228.2" y="225.9" width="14" height="52.9" rx="5"/><rect x="240.8" y="209.8" width="14" height="38.2" rx="5"/><rect x="253.6" y="197.2" width="14" height="52.1" rx="5"/><rect x="266.6" y="203.5" width="14" height="34.6" rx="5"/><rect x="280.0" y="218.0" width="14" height="50.0" rx="5"/><rect x="293.4" y="203.0" width="14" height="59.0" rx="5"/><rect x="306.6" y="178.5" width="14" height="50.3" rx="5"/><rect x="319.6" y="149.0" width="14" height="37.4" rx="5"/><rect x="332.8" y="146.4" width="14" height="48.9" rx="5"/><rect x="346.2" y="161.8" width="14" height="46.8" rx="5"/><rect x="359.0" y="164.0" width="14" height="38.7" rx="5"/><rect x="372.3" y="144.4" width="14" height="55.6" rx="5"/><rect x="385.5" y="184.6" width="14" height="50.8" rx="5"/><rect x="398.2" y="168.6" width="14" height="58.2" rx="5"/><rect x="410.8" y="204.7" width="14" height="49.5" rx="5"/><rect x="423.3" y="231.6" width="14" height="38.2" rx="5"/><rect x="435.5" y="258.5" width="14" height="50.8" rx="5"/><rect x="447.0" y="258.5" width="14" height="49.8" rx="5"/><rect x="458.5" y="267.4" width="14" height="49.4" rx="5"/><rect x="470.0" y="266.0" width="14" height="42.3" rx="5"/><rect x="481.4" y="248.5" width="14" height="74.8" rx="5"/><rect x="493.0" y="274.6" width="14" height="65.9" rx="5"/><rect x="504.5" y="310.2" width="14" height="46.4" rx="5"/><rect x="516.7" y="352.6" width="14" height="27.4" rx="5"/><rect x="528.0" y="316.6" width="14" height="53.4" rx="5"/><rect x="539.3" y="295.8" width="14" height="40.8" rx="5"/><rect x="550.2" y="284.2" width="14" height="32.0" rx="5"/><rect x="559.5" y="303.8" width="14" height="46.2" rx="5"/><rect x="571.5" y="331.2" width="14" height="50.2" rx="5"/><rect x="583.7" y="361.3" width="14" height="51.6" rx="5"/><rect x="595.8" y="351.9" width="14" height="48.8" rx="5"/><rect x="608.2" y="342.5" width="14" height="41.5" rx="5"/><rect x="620.5" y="370.6" width="14" height="60.2" rx="5"/><rect x="632.5" y="400.0" width="14" height="45.8" rx="5"/><rect x="644.3" y="418.9" width="14" height="51.6" rx="5"/><rect x="656.7" y="407.6" width="14" height="60.2" rx="5"/><rect x="667.4" y="403.8" width="14" height="27.2" rx="5"/><rect x="680.0" y="398.8" width="14" height="51.5" rx="5"/><rect x="691.7" y="379.2" width="14" height="71.8" rx="5"/><rect x="703.8" y="381.9" width="14" height="40.8" rx="5"/><rect x="716.4" y="382.1" width="14" height="41.7" rx="5"/><rect x="728.2" y="362.0" width="14" height="45.5" rx="5"/><rect x="739.8" y="360.0" width="14" height="34.9" rx="5"/><rect x="751.2" y="325.8" width="14" height="55.8" rx="5"/><rect x="762.6" y="272.0" width="14" height="63.6" rx="5"/><rect x="774.2" y="278.7" width="14" height="28.8" rx="5"/><rect x="786.3" y="250.5" width="14" height="45.4" rx="5"/><rect x="798.7" y="250.5" width="14" height="38.2" rx="5"/><rect x="810.6" y="265.3" width="14" height="44.0" rx="5"/><rect x="822.5" y="289.4" width="14" height="37.2" rx="5"/><rect x="834.2" y="259.9" width="14" height="61.1" rx="5"/><rect x="846.4" y="272.3" width="14" height="38.7" rx="5"/><rect x="857.6" y="252.1" width="14" height="47.3" rx="5"/><rect x="869.1" y="224.0" width="14" height="45.4" rx="5"/><rect x="880.5" y="204.4" width="14" height="47.0" rx="5"/><rect x="892.2" y="203.0" width="14" height="67.4" rx="5"/><rect x="903.3" y="244.6" width="14" height="31.5" rx="5"/><rect x="914.7" y="237.4" width="14" height="30.1" rx="5"/><rect x="926.5" y="250.0" width="14" height="27.5" rx="5"/><rect x="937.6" y="220.5" width="14" height="44.9" rx="5"/><rect x="949.5" y="234.0" width="14" height="42.1" rx="5"/><rect x="962.4" y="272.3" width="14" height="40.7" rx="5"/><rect x="974.6" y="299.5" width="14" height="44.5" rx="5"/><rect x="986.4" y="295.8" width="14" height="34.7" rx="5"/><rect x="997.7" y="281.3" width="14" height="35.0" rx="5"/><rect x="1010.4" y="260.3" width="14" height="38.2" rx="5"/></g>
<path d="M-12.0 283.3 C-10.0 283.0 -8.0 282.7 -6.0 282.5 C-4.0 282.2 -2.0 282.0 0.0 281.9 C2.0 281.7 4.0 281.6 6.0 281.4 C8.0 281.3 10.0 281.2 12.0 281.1 C14.0 281.0 16.0 281.0 18.0 280.9 C20.0 280.8 22.0 280.8 24.0 280.7 C26.0 280.6 28.0 280.6 30.0 280.5 C32.0 280.4 34.0 280.4 36.0 280.3 C38.0 280.2 40.0 280.1 42.0 279.9 C44.0 279.8 46.0 279.7 48.0 279.5 C50.0 279.3 52.0 279.1 54.0 278.9 C56.0 278.6 58.0 278.3 60.0 278.0 C62.0 277.7 64.0 277.3 66.0 276.9 C68.0 276.5 70.0 276.1 72.0 275.5 C74.0 275.0 76.0 274.4 78.0 273.8 C80.0 273.2 82.0 272.5 84.0 271.7 C86.0 271.0 88.0 270.1 90.0 269.3 C92.0 268.5 94.0 267.6 96.0 266.8 C98.0 265.9 100.0 265.0 102.0 264.2 C104.0 263.3 106.0 262.4 108.0 261.6 C110.0 260.8 112.0 260.0 114.0 259.2 C116.0 258.5 118.0 257.8 120.0 257.2 C122.0 256.5 124.0 255.9 126.0 255.4 C128.0 254.9 130.0 254.4 132.0 254.1 C134.0 253.7 136.0 253.4 138.0 253.1 C140.0 252.9 142.0 252.7 144.0 252.6 C146.0 252.5 148.0 252.4 150.0 252.3 C152.0 252.1 154.0 252.1 156.0 251.9 C158.0 251.7 160.0 251.5 162.0 251.2 C164.0 250.9 166.0 250.5 168.0 250.0 C170.0 249.5 172.0 248.9 174.0 248.2 C176.0 247.5 178.0 246.8 180.0 246.0 C182.0 245.2 184.0 244.3 186.0 243.4 C188.0 242.5 190.0 241.5 192.0 240.6 C194.0 239.6 196.0 238.5 198.0 237.5 C200.0 236.5 202.0 235.4 204.0 234.3 C206.0 233.2 208.0 232.1 210.0 231.0 C212.0 229.9 214.0 228.7 216.0 227.5 C218.0 226.3 220.0 225.1 222.0 223.8 C224.0 222.5 226.0 221.2 228.0 219.9 C230.0 218.5 232.0 217.1 234.0 215.7 C236.0 214.3 238.0 212.8 240.0 211.3 C242.0 209.7 244.0 208.1 246.0 206.5 C248.0 205.0 250.0 203.3 252.0 201.8 C254.0 200.4 256.0 198.9 258.0 197.6 C260.0 196.3 262.0 195.2 264.0 194.0 C266.0 192.9 268.0 191.9 270.0 190.8 C272.0 189.8 274.0 188.9 276.0 188.0 C278.0 187.1 280.0 186.2 282.0 185.3 C284.0 184.4 286.0 183.5 288.0 182.6 C290.0 181.7 292.0 180.8 294.0 179.8 C296.0 178.9 298.0 177.9 300.0 176.8 C302.0 175.7 304.0 174.6 306.0 173.4 C308.0 172.3 310.0 171.0 312.0 169.8 C314.0 168.6 316.0 167.4 318.0 166.3 C320.0 165.1 322.0 164.0 324.0 163.0 C326.0 161.9 328.0 161.0 330.0 160.0 C332.0 159.1 334.0 158.2 336.0 157.3 C338.0 156.3 340.0 155.5 342.0 154.6 C344.0 153.7 346.0 152.9 348.0 152.0 C350.0 151.2 352.0 150.4 354.0 149.6 C356.0 148.8 358.0 148.0 360.0 147.3 C362.0 146.5 364.0 145.8 366.0 145.1 C368.0 144.5 370.0 143.8 372.0 143.2 C374.0 142.6 376.0 142.0 378.0 141.4 C380.0 140.9 382.0 140.4 384.0 139.9 C386.0 139.4 388.0 139.0 390.0 138.6 C392.0 138.2 394.0 137.9 396.0 137.5 C398.0 137.2 400.0 137.0 402.0 136.7 C404.0 136.5 406.0 136.3 408.0 136.1 C410.0 136.0 412.0 135.9 414.0 135.8 C416.0 135.7 418.0 135.7 420.0 135.7 C422.0 135.7 424.0 135.7 426.0 135.8 C428.0 135.9 430.0 136.0 432.0 136.2 C434.0 136.3 436.0 136.5 438.0 136.8 C440.0 137.0 442.0 137.3 444.0 137.6 C446.0 137.9 448.0 138.3 450.0 138.7 C452.0 139.1 454.0 139.5 456.0 140.0 C458.0 140.5 460.0 141.0 462.0 141.5 C464.0 142.1 466.0 142.7 468.0 143.4 C470.0 144.0 472.0 144.7 474.0 145.5 C476.0 146.2 478.0 147.0 480.0 147.8 C482.0 148.6 484.0 149.5 486.0 150.4 C488.0 151.4 490.0 152.3 492.0 153.3 C494.0 154.3 496.0 155.3 498.0 156.4 C500.0 157.4 502.0 158.5 504.0 159.6 C506.0 160.7 508.0 161.8 510.0 162.9 C512.0 164.1 514.0 165.2 516.0 166.4 C518.0 167.5 520.0 168.7 522.0 169.8 C524.0 171.0 526.0 172.1 528.0 173.3 C530.0 174.4 532.0 175.6 534.0 176.7 C536.0 177.8 538.0 179.0 540.0 180.1 C542.0 181.3 544.0 182.4 546.0 183.5 C548.0 184.6 550.0 185.8 552.0 186.9 C554.0 188.0 556.0 189.1 558.0 190.2 C560.0 191.3 562.0 192.4 564.0 193.4 C566.0 194.5 568.0 195.6 570.0 196.7 C572.0 197.7 574.0 198.8 576.0 199.8 C578.0 200.9 580.0 201.9 582.0 202.9 C584.0 203.9 586.0 205.0 588.0 206.0 C590.0 207.0 592.0 208.0 594.0 209.1 C596.0 210.1 598.0 211.2 600.0 212.3 C602.0 213.4 604.0 214.5 606.0 215.6 C608.0 216.8 610.0 218.0 612.0 219.1 C614.0 220.3 616.0 221.6 618.0 222.8 C620.0 224.0 622.0 225.3 624.0 226.5 C626.0 227.7 628.0 229.0 630.0 230.3 C632.0 231.5 634.0 232.8 636.0 234.0 C638.0 235.3 640.0 236.6 642.0 237.8 C644.0 239.0 646.0 240.3 648.0 241.5 C650.0 242.7 652.0 243.9 654.0 245.1 C656.0 246.3 658.0 247.4 660.0 248.5 C662.0 249.7 664.0 250.8 666.0 251.8 C668.0 252.9 670.0 253.9 672.0 254.9 C674.0 255.9 676.0 256.9 678.0 257.8 C680.0 258.7 682.0 259.6 684.0 260.4 C686.0 261.2 688.0 261.9 690.0 262.6 C692.0 263.4 694.0 264.0 696.0 264.6 C698.0 265.2 700.0 265.8 702.0 266.3 C704.0 266.8 706.0 267.2 708.0 267.6 C710.0 268.0 712.0 268.4 714.0 268.7 C716.0 269.0 718.0 269.2 720.0 269.4 C722.0 269.6 724.0 269.8 726.0 269.9 C728.0 270.0 730.0 270.1 732.0 270.1 C734.0 270.1 736.0 270.0 738.0 269.9 C740.0 269.8 742.0 269.7 744.0 269.5 C746.0 269.3 748.0 269.1 750.0 268.8 C752.0 268.5 754.0 268.2 756.0 267.8 C758.0 267.5 760.0 267.1 762.0 266.6 C764.0 266.2 766.0 265.7 768.0 265.2 C770.0 264.7 772.0 264.2 774.0 263.7 C776.0 263.2 778.0 262.6 780.0 262.1 C782.0 261.5 784.0 260.9 786.0 260.4 C788.0 259.8 790.0 259.2 792.0 258.6 C794.0 258.0 796.0 257.4 798.0 256.8 C800.0 256.1 802.0 255.5 804.0 254.8 C806.0 254.1 808.0 253.4 810.0 252.7 C812.0 252.0 814.0 251.2 816.0 250.4 C818.0 249.7 820.0 248.9 822.0 248.0 C824.0 247.2 826.0 246.3 828.0 245.4 C830.0 244.4 832.0 243.5 834.0 242.5 C836.0 241.5 838.0 240.5 840.0 239.4 C842.0 238.4 844.0 237.3 846.0 236.1 C848.0 235.0 850.0 233.9 852.0 232.7 C854.0 231.6 856.0 230.4 858.0 229.2 C860.0 228.0 862.0 226.8 864.0 225.6 C866.0 224.4 868.0 223.2 870.0 222.0 C872.0 220.8 874.0 219.6 876.0 218.4 C878.0 217.2 880.0 216.0 882.0 214.8 C884.0 213.6 886.0 212.4 888.0 211.2 C890.0 210.1 892.0 208.9 894.0 207.8 C896.0 206.7 898.0 205.7 900.0 204.6 C902.0 203.6 904.0 202.6 906.0 201.6 C908.0 200.7 910.0 199.7 912.0 198.7 C914.0 197.8 916.0 196.8 918.0 195.8 C920.0 194.8 922.0 193.7 924.0 192.7 C926.0 191.6 928.0 190.5 930.0 189.5 C932.0 188.5 934.0 187.5 936.0 186.6 C938.0 185.7 940.0 184.8 942.0 184.0 C944.0 183.1 946.0 182.4 948.0 181.6 C950.0 180.9 952.0 180.1 954.0 179.5 C956.0 178.8 958.0 178.1 960.0 177.5 C962.0 176.9 964.0 176.3 966.0 175.7 C968.0 175.2 970.0 174.6 972.0 174.1 C974.0 173.6 976.0 173.1 978.0 172.6 C980.0 172.1 982.0 171.6 984.0 171.2 C986.0 170.7 988.0 170.2 990.0 169.8 C992.0 169.3 994.0 168.9 996.0 168.4 C998.0 168.0 1000.0 167.5 1002.0 167.1 C1004.0 166.6 1006.0 166.2 1008.0 165.7 C1010.0 165.2 1012.0 164.7 1014.0 164.2 C1016.0 163.7 1018.0 163.2 1020.0 162.7 C1022.0 162.1 1024.0 161.6 1026.0 161.0 C1028.0 160.4 1030.0 159.8 1032.0 159.2" stroke="#cb4a4b" stroke-width="2.8" fill="none" stroke-dasharray="5.3 8.1" stroke-linecap="round"/>
<path d="M-12.0 478.6 C-10.0 478.3 -8.0 478.0 -6.0 477.7 C-4.0 477.5 -2.0 477.3 0.0 477.1 C2.0 476.9 4.0 476.7 6.0 476.6 C8.0 476.4 10.0 476.3 12.0 476.2 C14.0 476.1 16.0 476.0 18.0 475.9 C20.0 475.8 22.0 475.7 24.0 475.7 C26.0 475.6 28.0 475.6 30.0 475.5 C32.0 475.4 34.0 475.4 36.0 475.3 C38.0 475.3 40.0 475.2 42.0 475.2 C44.0 475.1 46.0 475.1 48.0 475.0 C50.0 474.9 52.0 474.8 54.0 474.7 C56.0 474.6 58.0 474.5 60.0 474.3 C62.0 474.2 64.0 474.0 66.0 473.8 C68.0 473.6 70.0 473.4 72.0 473.2 C74.0 472.9 76.0 472.7 78.0 472.3 C80.0 472.0 82.0 471.7 84.0 471.3 C86.0 470.9 88.0 470.5 90.0 470.0 C92.0 469.5 94.0 469.0 96.0 468.5 C98.0 468.0 100.0 467.4 102.0 466.9 C104.0 466.3 106.0 465.8 108.0 465.2 C110.0 464.7 112.0 464.2 114.0 463.7 C116.0 463.2 118.0 462.8 120.0 462.4 C122.0 462.0 124.0 461.7 126.0 461.4 C128.0 461.1 130.0 461.0 132.0 460.8 C134.0 460.6 136.0 460.5 138.0 460.4 C140.0 460.3 142.0 460.2 144.0 460.1 C146.0 460.0 148.0 459.9 150.0 459.7 C152.0 459.5 154.0 459.3 156.0 459.0 C158.0 458.8 160.0 458.4 162.0 458.1 C164.0 457.7 166.0 457.2 168.0 456.7 C170.0 456.2 172.0 455.6 174.0 455.0 C176.0 454.4 178.0 453.7 180.0 452.9 C182.0 452.1 184.0 451.3 186.0 450.4 C188.0 449.5 190.0 448.5 192.0 447.4 C194.0 446.3 196.0 445.2 198.0 443.9 C200.0 442.7 202.0 441.4 204.0 440.0 C206.0 438.6 208.0 437.2 210.0 435.8 C212.0 434.4 214.0 432.9 216.0 431.6 C218.0 430.3 220.0 429.0 222.0 427.8 C224.0 426.5 226.0 425.3 228.0 424.0 C230.0 422.7 232.0 421.3 234.0 419.8 C236.0 418.3 238.0 416.6 240.0 414.9 C242.0 413.3 244.0 411.5 246.0 409.8 C248.0 408.1 250.0 406.3 252.0 404.7 C254.0 403.0 256.0 401.4 258.0 399.9 C260.0 398.3 262.0 396.8 264.0 395.4 C266.0 393.9 268.0 392.5 270.0 391.2 C272.0 389.8 274.0 388.5 276.0 387.2 C278.0 385.9 280.0 384.7 282.0 383.4 C284.0 382.2 286.0 381.1 288.0 379.9 C290.0 378.8 292.0 377.7 294.0 376.6 C296.0 375.5 298.0 374.5 300.0 373.5 C302.0 372.5 304.0 371.5 306.0 370.5 C308.0 369.5 310.0 368.6 312.0 367.7 C314.0 366.7 316.0 365.8 318.0 365.0 C320.0 364.1 322.0 363.2 324.0 362.3 C326.0 361.5 328.0 360.6 330.0 359.8 C332.0 359.0 334.0 358.2 336.0 357.4 C338.0 356.7 340.0 355.9 342.0 355.2 C344.0 354.4 346.0 353.7 348.0 353.0 C350.0 352.4 352.0 351.7 354.0 351.1 C356.0 350.4 358.0 349.8 360.0 349.3 C362.0 348.7 364.0 348.1 366.0 347.6 C368.0 347.1 370.0 346.6 372.0 346.2 C374.0 345.8 376.0 345.3 378.0 345.0 C380.0 344.6 382.0 344.3 384.0 344.0 C386.0 343.7 388.0 343.4 390.0 343.2 C392.0 342.9 394.0 342.7 396.0 342.6 C398.0 342.4 400.0 342.3 402.0 342.2 C404.0 342.1 406.0 342.1 408.0 342.0 C410.0 342.0 412.0 342.0 414.0 342.1 C416.0 342.1 418.0 342.2 420.0 342.4 C422.0 342.5 424.0 342.6 426.0 342.8 C428.0 343.0 430.0 343.2 432.0 343.5 C434.0 343.8 436.0 344.1 438.0 344.4 C440.0 344.7 442.0 345.1 444.0 345.5 C446.0 345.9 448.0 346.4 450.0 346.8 C452.0 347.3 454.0 347.9 456.0 348.4 C458.0 349.0 460.0 349.6 462.0 350.3 C464.0 351.0 466.0 351.7 468.0 352.4 C470.0 353.2 472.0 354.0 474.0 354.8 C476.0 355.7 478.0 356.6 480.0 357.5 C482.0 358.5 484.0 359.5 486.0 360.5 C488.0 361.6 490.0 362.7 492.0 363.8 C494.0 365.0 496.0 366.1 498.0 367.3 C500.0 368.5 502.0 369.7 504.0 370.9 C506.0 372.1 508.0 373.4 510.0 374.6 C512.0 375.8 514.0 377.0 516.0 378.1 C518.0 379.3 520.0 380.4 522.0 381.6 C524.0 382.7 526.0 383.7 528.0 384.8 C530.0 385.9 532.0 386.9 534.0 387.9 C536.0 389.0 538.0 390.0 540.0 391.0 C542.0 392.0 544.0 393.1 546.0 394.1 C548.0 395.1 550.0 396.1 552.0 397.2 C554.0 398.2 556.0 399.3 558.0 400.4 C560.0 401.5 562.0 402.6 564.0 403.7 C566.0 404.8 568.0 405.9 570.0 407.1 C572.0 408.2 574.0 409.4 576.0 410.5 C578.0 411.7 580.0 412.8 582.0 414.0 C584.0 415.2 586.0 416.3 588.0 417.5 C590.0 418.6 592.0 419.8 594.0 420.9 C596.0 422.1 598.0 423.2 600.0 424.3 C602.0 425.4 604.0 426.5 606.0 427.6 C608.0 428.7 610.0 429.8 612.0 430.9 C614.0 431.9 616.0 433.0 618.0 434.0 C620.0 435.1 622.0 436.2 624.0 437.2 C626.0 438.3 628.0 439.3 630.0 440.4 C632.0 441.4 634.0 442.5 636.0 443.5 C638.0 444.6 640.0 445.6 642.0 446.7 C644.0 447.8 646.0 448.9 648.0 449.9 C650.0 451.0 652.0 452.1 654.0 453.2 C656.0 454.3 658.0 455.5 660.0 456.5 C662.0 457.6 664.0 458.7 666.0 459.6 C668.0 460.6 670.0 461.5 672.0 462.2 C674.0 463.0 676.0 463.7 678.0 464.3 C680.0 464.9 682.0 465.4 684.0 465.9 C686.0 466.4 688.0 466.9 690.0 467.3 C692.0 467.7 694.0 468.2 696.0 468.6 C698.0 469.0 700.0 469.4 702.0 469.7 C704.0 470.1 706.0 470.4 708.0 470.7 C710.0 471.0 712.0 471.3 714.0 471.6 C716.0 471.8 718.0 472.0 720.0 472.2 C722.0 472.4 724.0 472.5 726.0 472.6 C728.0 472.7 730.0 472.8 732.0 472.9 C734.0 472.9 736.0 472.9 738.0 472.9 C740.0 472.8 742.0 472.8 744.0 472.6 C746.0 472.5 748.0 472.4 750.0 472.2 C752.0 472.0 754.0 471.8 756.0 471.5 C758.0 471.2 760.0 470.9 762.0 470.6 C764.0 470.2 766.0 469.8 768.0 469.4 C770.0 469.0 772.0 468.5 774.0 468.0 C776.0 467.5 778.0 466.9 780.0 466.4 C782.0 465.8 784.0 465.2 786.0 464.6 C788.0 463.9 790.0 463.3 792.0 462.6 C794.0 461.9 796.0 461.2 798.0 460.5 C800.0 459.8 802.0 459.0 804.0 458.2 C806.0 457.5 808.0 456.7 810.0 455.9 C812.0 455.1 814.0 454.3 816.0 453.5 C818.0 452.7 820.0 451.9 822.0 451.1 C824.0 450.4 826.0 449.6 828.0 448.8 C830.0 448.1 832.0 447.4 834.0 446.6 C836.0 445.9 838.0 445.2 840.0 444.4 C842.0 443.6 844.0 442.8 846.0 441.9 C848.0 441.0 850.0 440.1 852.0 439.0 C854.0 438.0 856.0 436.9 858.0 435.7 C860.0 434.5 862.0 433.2 864.0 431.9 C866.0 430.6 868.0 429.2 870.0 427.8 C872.0 426.5 874.0 425.1 876.0 423.7 C878.0 422.4 880.0 421.0 882.0 419.6 C884.0 418.3 886.0 416.9 888.0 415.6 C890.0 414.3 892.0 413.0 894.0 411.7 C896.0 410.5 898.0 409.2 900.0 408.0 C902.0 406.8 904.0 405.5 906.0 404.4 C908.0 403.2 910.0 402.1 912.0 401.0 C914.0 399.9 916.0 398.8 918.0 397.8 C920.0 396.8 922.0 395.8 924.0 394.9 C926.0 393.9 928.0 393.1 930.0 392.2 C932.0 391.3 934.0 390.5 936.0 389.7 C938.0 388.9 940.0 388.1 942.0 387.3 C944.0 386.5 946.0 385.7 948.0 384.8 C950.0 384.0 952.0 383.2 954.0 382.4 C956.0 381.5 958.0 380.7 960.0 379.9 C962.0 379.0 964.0 378.2 966.0 377.4 C968.0 376.5 970.0 375.7 972.0 374.9 C974.0 374.1 976.0 373.3 978.0 372.6 C980.0 371.8 982.0 371.1 984.0 370.3 C986.0 369.6 988.0 368.9 990.0 368.3 C992.0 367.7 994.0 367.0 996.0 366.5 C998.0 365.9 1000.0 365.4 1002.0 364.9 C1004.0 364.4 1006.0 364.0 1008.0 363.6 C1010.0 363.2 1012.0 362.9 1014.0 362.7 C1016.0 362.4 1018.0 362.2 1020.0 362.1 C1022.0 362.0 1024.0 361.9 1026.0 361.9 C1028.0 362.0 1030.0 362.1 1032.0 362.2" stroke="#5aab66" stroke-width="2.8" fill="none" stroke-dasharray="5.3 8.1" stroke-linecap="round"/>
<path d="M-12.0 384.4 C-10.0 383.9 -8.0 383.3 -6.0 382.8 C-4.0 382.4 -2.0 382.0 0.0 381.6 C2.0 381.3 4.0 381.0 6.0 380.8 C8.0 380.5 10.0 380.3 12.0 380.1 C14.0 380.0 16.0 379.8 18.0 379.7 C20.0 379.6 22.0 379.5 24.0 379.4 C26.0 379.4 28.0 379.3 30.0 379.3 C32.0 379.2 34.0 379.2 36.0 379.1 C38.0 379.0 40.0 379.0 42.0 378.9 C44.0 378.9 46.0 378.8 48.0 378.7 C50.0 378.6 52.0 378.4 54.0 378.3 C56.0 378.1 58.0 377.9 60.0 377.7 C62.0 377.5 64.0 377.2 66.0 376.9 C68.0 376.5 70.0 376.2 72.0 375.7 C74.0 375.3 76.0 374.8 78.0 374.3 C80.0 373.8 82.0 373.2 84.0 372.6 C86.0 372.0 88.0 371.4 90.0 370.7 C92.0 370.1 94.0 369.4 96.0 368.8 C98.0 368.1 100.0 367.5 102.0 366.8 C104.0 366.2 106.0 365.6 108.0 365.0 C110.0 364.4 112.0 363.8 114.0 363.2 C116.0 362.7 118.0 362.2 120.0 361.7 C122.0 361.3 124.0 360.8 126.0 360.4 C128.0 360.0 130.0 359.7 132.0 359.3 C134.0 358.9 136.0 358.6 138.0 358.3 C140.0 358.0 142.0 357.7 144.0 357.4 C146.0 357.2 148.0 356.9 150.0 356.7 C152.0 356.4 154.0 356.2 156.0 355.9 C158.0 355.7 160.0 355.5 162.0 355.2 C164.0 354.9 166.0 354.7 168.0 354.4 C170.0 354.0 172.0 353.7 174.0 353.2 C176.0 352.7 178.0 352.2 180.0 351.5 C182.0 350.9 184.0 350.1 186.0 349.2 C188.0 348.3 190.0 347.3 192.0 346.3 C194.0 345.2 196.0 344.0 198.0 342.8 C200.0 341.6 202.0 340.3 204.0 339.0 C206.0 337.7 208.0 336.3 210.0 334.9 C212.0 333.5 214.0 332.1 216.0 330.6 C218.0 329.2 220.0 327.8 222.0 326.4 C224.0 325.0 226.0 323.6 228.0 322.2 C230.0 320.8 232.0 319.5 234.0 318.2 C236.0 316.8 238.0 315.5 240.0 314.3 C242.0 313.0 244.0 311.7 246.0 310.5 C248.0 309.2 250.0 308.0 252.0 306.8 C254.0 305.6 256.0 304.4 258.0 303.3 C260.0 302.1 262.0 300.9 264.0 299.8 C266.0 298.7 268.0 297.5 270.0 296.4 C272.0 295.3 274.0 294.2 276.0 293.1 C278.0 292.1 280.0 291.0 282.0 289.9 C284.0 288.9 286.0 287.8 288.0 286.8 C290.0 285.7 292.0 284.7 294.0 283.7 C296.0 282.6 298.0 281.6 300.0 280.5 C302.0 279.5 304.0 278.4 306.0 277.2 C308.0 276.1 310.0 274.9 312.0 273.7 C314.0 272.5 316.0 271.2 318.0 269.9 C320.0 268.7 322.0 267.4 324.0 266.2 C326.0 265.0 328.0 263.8 330.0 262.7 C332.0 261.5 334.0 260.5 336.0 259.6 C338.0 258.6 340.0 257.7 342.0 256.9 C344.0 256.0 346.0 255.2 348.0 254.5 C350.0 253.7 352.0 253.0 354.0 252.3 C356.0 251.5 358.0 250.8 360.0 250.2 C362.0 249.5 364.0 248.8 366.0 248.2 C368.0 247.5 370.0 246.9 372.0 246.3 C374.0 245.7 376.0 245.1 378.0 244.6 C380.0 244.0 382.0 243.5 384.0 243.0 C386.0 242.5 388.0 242.1 390.0 241.7 C392.0 241.2 394.0 240.9 396.0 240.5 C398.0 240.2 400.0 239.9 402.0 239.6 C404.0 239.4 406.0 239.2 408.0 239.0 C410.0 238.8 412.0 238.7 414.0 238.6 C416.0 238.6 418.0 238.6 420.0 238.6 C422.0 238.7 424.0 238.7 426.0 238.9 C428.0 239.1 430.0 239.3 432.0 239.6 C434.0 239.8 436.0 240.2 438.0 240.6 C440.0 241.0 442.0 241.5 444.0 242.0 C446.0 242.4 448.0 243.0 450.0 243.6 C452.0 244.1 454.0 244.7 456.0 245.3 C458.0 245.9 460.0 246.6 462.0 247.2 C464.0 247.8 466.0 248.3 468.0 248.9 C470.0 249.5 472.0 250.1 474.0 250.7 C476.0 251.3 478.0 252.0 480.0 252.7 C482.0 253.4 484.0 254.1 486.0 254.9 C488.0 255.7 490.0 256.6 492.0 257.5 C494.0 258.5 496.0 259.5 498.0 260.6 C500.0 261.6 502.0 262.8 504.0 263.9 C506.0 265.1 508.0 266.3 510.0 267.5 C512.0 268.7 514.0 270.0 516.0 271.2 C518.0 272.4 520.0 273.7 522.0 274.9 C524.0 276.1 526.0 277.3 528.0 278.5 C530.0 279.6 532.0 280.8 534.0 281.9 C536.0 282.9 538.0 284.0 540.0 285.0 C542.0 286.0 544.0 286.9 546.0 287.8 C548.0 288.7 550.0 289.6 552.0 290.5 C554.0 291.4 556.0 292.3 558.0 293.2 C560.0 294.1 562.0 295.1 564.0 296.0 C566.0 297.0 568.0 298.0 570.0 299.0 C572.0 300.1 574.0 301.1 576.0 302.2 C578.0 303.2 580.0 304.3 582.0 305.4 C584.0 306.5 586.0 307.6 588.0 308.7 C590.0 309.9 592.0 311.0 594.0 312.1 C596.0 313.3 598.0 314.5 600.0 315.6 C602.0 316.8 604.0 318.0 606.0 319.2 C608.0 320.4 610.0 321.5 612.0 322.7 C614.0 323.9 616.0 325.1 618.0 326.3 C620.0 327.5 622.0 328.7 624.0 329.9 C626.0 331.1 628.0 332.3 630.0 333.5 C632.0 334.7 634.0 335.9 636.0 337.1 C638.0 338.3 640.0 339.4 642.0 340.6 C644.0 341.8 646.0 342.9 648.0 344.0 C650.0 345.2 652.0 346.3 654.0 347.4 C656.0 348.5 658.0 349.6 660.0 350.7 C662.0 351.7 664.0 352.8 666.0 353.8 C668.0 354.8 670.0 355.8 672.0 356.7 C674.0 357.7 676.0 358.6 678.0 359.5 C680.0 360.4 682.0 361.2 684.0 362.0 C686.0 362.8 688.0 363.6 690.0 364.3 C692.0 365.1 694.0 365.8 696.0 366.4 C698.0 367.0 700.0 367.6 702.0 368.1 C704.0 368.7 706.0 369.1 708.0 369.6 C710.0 370.0 712.0 370.4 714.0 370.7 C716.0 371.1 718.0 371.3 720.0 371.6 C722.0 371.8 724.0 372.0 726.0 372.1 C728.0 372.3 730.0 372.3 732.0 372.4 C734.0 372.4 736.0 372.4 738.0 372.3 C740.0 372.2 742.0 372.1 744.0 371.9 C746.0 371.8 748.0 371.6 750.0 371.3 C752.0 371.0 754.0 370.7 756.0 370.3 C758.0 369.9 760.0 369.5 762.0 369.1 C764.0 368.6 766.0 368.1 768.0 367.5 C770.0 367.0 772.0 366.4 774.0 365.8 C776.0 365.3 778.0 364.6 780.0 364.0 C782.0 363.4 784.0 362.7 786.0 362.1 C788.0 361.5 790.0 360.8 792.0 360.2 C794.0 359.6 796.0 358.9 798.0 358.3 C800.0 357.7 802.0 357.1 804.0 356.5 C806.0 355.9 808.0 355.3 810.0 354.7 C812.0 354.0 814.0 353.4 816.0 352.7 C818.0 352.0 820.0 351.3 822.0 350.5 C824.0 349.8 826.0 348.9 828.0 348.1 C830.0 347.2 832.0 346.4 834.0 345.4 C836.0 344.5 838.0 343.5 840.0 342.5 C842.0 341.5 844.0 340.4 846.0 339.3 C848.0 338.2 850.0 337.1 852.0 335.9 C854.0 334.7 856.0 333.5 858.0 332.3 C860.0 331.0 862.0 329.8 864.0 328.5 C866.0 327.2 868.0 325.9 870.0 324.6 C872.0 323.3 874.0 322.0 876.0 320.7 C878.0 319.4 880.0 318.1 882.0 316.8 C884.0 315.5 886.0 314.3 888.0 313.0 C890.0 311.8 892.0 310.6 894.0 309.4 C896.0 308.3 898.0 307.1 900.0 306.0 C902.0 304.9 904.0 303.8 906.0 302.8 C908.0 301.7 910.0 300.7 912.0 299.7 C914.0 298.7 916.0 297.8 918.0 296.8 C920.0 295.9 922.0 295.0 924.0 294.1 C926.0 293.3 928.0 292.4 930.0 291.6 C932.0 290.8 934.0 290.1 936.0 289.3 C938.0 288.6 940.0 287.9 942.0 287.2 C944.0 286.5 946.0 285.8 948.0 285.2 C950.0 284.6 952.0 283.9 954.0 283.3 C956.0 282.7 958.0 282.1 960.0 281.5 C962.0 281.0 964.0 280.4 966.0 279.9 C968.0 279.3 970.0 278.8 972.0 278.2 C974.0 277.7 976.0 277.2 978.0 276.6 C980.0 276.1 982.0 275.6 984.0 275.0 C986.0 274.5 988.0 274.0 990.0 273.5 C992.0 272.9 994.0 272.4 996.0 271.9 C998.0 271.3 1000.0 270.8 1002.0 270.2 C1004.0 269.6 1006.0 269.1 1008.0 268.5 C1010.0 267.9 1012.0 267.3 1014.0 266.7 C1016.0 266.0 1018.0 265.4 1020.0 264.7 C1022.0 264.1 1024.0 263.4 1026.0 262.7 C1028.0 262.0 1030.0 261.2 1032.0 260.5" stroke="#3a62cf" stroke-width="2.6" fill="none"/>
<line x1="4.5" y1="411" x2="4.5" y2="457" stroke="#5a8a6a" stroke-width="1.3"/>
<rect x="0.60" y="419.60" width="7.80" height="31.80" fill="#52a56c" stroke="#1e3326" stroke-width="1.2"/>
<line x1="17" y1="404" x2="17" y2="469" stroke="#5a8a6a" stroke-width="1.3"/>
<rect x="13.10" y="422.60" width="7.80" height="26.30" fill="#52a56c" stroke="#1e3326" stroke-width="1.2"/>
<line x1="29" y1="370" x2="29" y2="431.5" stroke="#5a8a6a" stroke-width="1.3"/>
<rect x="25.10" y="409.60" width="7.80" height="14.30" fill="#52a56c" stroke="#1e3326" stroke-width="1.2"/>
<line x1="41" y1="392.6" x2="41" y2="446.5" stroke="#a86060" stroke-width="1.3"/>
<rect x="37.10" y="410.00" width="7.80" height="25.90" fill="#e8483f" stroke="#3b1d1b" stroke-width="1.2"/>
<line x1="53" y1="424" x2="53" y2="458" stroke="#a86060" stroke-width="1.3"/>
<rect x="49.10" y="436.60" width="7.80" height="10.60" fill="#e8483f" stroke="#3b1d1b" stroke-width="1.2"/>
<line x1="66" y1="409" x2="66" y2="451" stroke="#5a8a6a" stroke-width="1.3"/>
<rect x="62.10" y="423.60" width="7.80" height="24.30" fill="#52a56c" stroke="#1e3326" stroke-width="1.2"/>
<line x1="77.5" y1="401" x2="77.5" y2="432" stroke="#5a8a6a" stroke-width="1.3"/>
<rect x="73.60" y="410.60" width="7.80" height="8.30" fill="#52a56c" stroke="#1e3326" stroke-width="1.2"/>
<line x1="89.5" y1="351" x2="89.5" y2="410" stroke="#5a8a6a" stroke-width="1.3"/>
<rect x="85.60" y="364.60" width="7.80" height="44.80" fill="#52a56c" stroke="#1e3326" stroke-width="1.2"/>
<line x1="101.4" y1="281.6" x2="101.4" y2="364.8" stroke="#5a8a6a" stroke-width="1.3"/>
<rect x="97.50" y="320.80" width="7.80" height="43.40" fill="#52a56c" stroke="#1e3326" stroke-width="1.2"/>
<line x1="113.3" y1="283.3" x2="113.3" y2="323.4" stroke="#5a8a6a" stroke-width="1.3"/>
<rect x="109.40" y="285.90" width="7.80" height="19.10" fill="#52a56c" stroke="#1e3326" stroke-width="1.2"/>
<line x1="126.3" y1="263" x2="126.3" y2="328.5" stroke="#a86060" stroke-width="1.3"/>
<rect x="122.40" y="286.70" width="7.80" height="15.40" fill="#e8483f" stroke="#3b1d1b" stroke-width="1.2"/>
<line x1="138.3" y1="290" x2="138.3" y2="346.6" stroke="#a86060" stroke-width="1.3"/>
<rect x="134.40" y="300.10" width="7.80" height="39.90" fill="#e8483f" stroke="#3b1d1b" stroke-width="1.2"/>
<line x1="150.5" y1="335.1" x2="150.5" y2="387" stroke="#a86060" stroke-width="1.3"/>
<rect x="146.60" y="341.90" width="7.80" height="31.60" fill="#e8483f" stroke="#3b1d1b" stroke-width="1.2"/>
<line x1="162.5" y1="342.6" x2="162.5" y2="392" stroke="#5a8a6a" stroke-width="1.3"/>
<rect x="158.60" y="351.00" width="7.80" height="28.10" fill="#52a56c" stroke="#1e3326" stroke-width="1.2"/>
<line x1="174.7" y1="312.8" x2="174.7" y2="369.6" stroke="#5a8a6a" stroke-width="1.3"/>
<rect x="170.80" y="319.60" width="7.80" height="33.40" fill="#52a56c" stroke="#1e3326" stroke-width="1.2"/>
<line x1="186.6" y1="303.8" x2="186.6" y2="365.3" stroke="#a86060" stroke-width="1.3"/>
<rect x="182.70" y="318.80" width="7.80" height="14.80" fill="#e8483f" stroke="#3b1d1b" stroke-width="1.2"/>
<line x1="198.2" y1="286" x2="198.2" y2="333.6" stroke="#5a8a6a" stroke-width="1.3"/>
<rect x="194.30" y="298.80" width="7.80" height="34.20" fill="#52a56c" stroke="#1e3326" stroke-width="1.2"/>
<line x1="210.4" y1="241.8" x2="210.4" y2="305.4" stroke="#5a8a6a" stroke-width="1.3"/>
<rect x="206.50" y="269.00" width="7.80" height="31.70" fill="#52a56c" stroke="#1e3326" stroke-width="1.2"/>
<line x1="222.9" y1="245.2" x2="222.9" y2="284.4" stroke="#a86060" stroke-width="1.3"/>
<rect x="219.00" y="269.00" width="7.80" height="7.90" fill="#e8483f" stroke="#3b1d1b" stroke-width="1.2"/>
<line x1="235.2" y1="228.9" x2="235.2" y2="275.8" stroke="#5a8a6a" stroke-width="1.3"/>
<rect x="231.30" y="235.60" width="7.80" height="39.60" fill="#52a56c" stroke="#1e3326" stroke-width="1.2"/>
<line x1="247.8" y1="212.8" x2="247.8" y2="245" stroke="#5a8a6a" stroke-width="1.3"/>
<rect x="243.90" y="233.00" width="7.80" height="3.90" fill="#52a56c" stroke="#1e3326" stroke-width="1.2"/>
<line x1="260.6" y1="200.2" x2="260.6" y2="246.3" stroke="#5a8a6a" stroke-width="1.3"/>
<rect x="256.70" y="213.60" width="7.80" height="30.00" fill="#52a56c" stroke="#1e3326" stroke-width="1.2"/>
<line x1="273.6" y1="206.5" x2="273.6" y2="235.1" stroke="#a86060" stroke-width="1.3"/>
<rect x="269.70" y="212.60" width="7.80" height="21.90" fill="#e8483f" stroke="#3b1d1b" stroke-width="1.2"/>
<line x1="287" y1="221" x2="287" y2="265" stroke="#a86060" stroke-width="1.3"/>
<rect x="283.10" y="233.60" width="7.80" height="19.20" fill="#e8483f" stroke="#3b1d1b" stroke-width="1.2"/>
<line x1="300.4" y1="206" x2="300.4" y2="259" stroke="#5a8a6a" stroke-width="1.3"/>
<rect x="296.50" y="218.30" width="7.80" height="28.40" fill="#52a56c" stroke="#1e3326" stroke-width="1.2"/>
<line x1="313.6" y1="181.5" x2="313.6" y2="225.8" stroke="#5a8a6a" stroke-width="1.3"/>
<rect x="309.70" y="183.50" width="7.80" height="34.40" fill="#52a56c" stroke="#1e3326" stroke-width="1.2"/>
<line x1="326.6" y1="152" x2="326.6" y2="183.4" stroke="#5a8a6a" stroke-width="1.3"/>
<rect x="322.70" y="161.80" width="7.80" height="21.00" fill="#52a56c" stroke="#1e3326" stroke-width="1.2"/>
<line x1="339.8" y1="149.4" x2="339.8" y2="192.3" stroke="#a86060" stroke-width="1.3"/>
<rect x="335.90" y="161.80" width="7.80" height="22.40" fill="#e8483f" stroke="#3b1d1b" stroke-width="1.2"/>
<line x1="353.2" y1="164.8" x2="353.2" y2="205.6" stroke="#a86060" stroke-width="1.3"/>
<rect x="349.30" y="185.80" width="7.80" height="11.70" fill="#e8483f" stroke="#3b1d1b" stroke-width="1.2"/>
<line x1="366" y1="167" x2="366" y2="199.7" stroke="#5a8a6a" stroke-width="1.3"/>
<rect x="362.10" y="170.00" width="7.80" height="20.00" fill="#52a56c" stroke="#1e3326" stroke-width="1.2"/>
<line x1="379.3" y1="147.4" x2="379.3" y2="197" stroke="#a86060" stroke-width="1.3"/>
<rect x="375.40" y="171.60" width="7.80" height="17.80" fill="#e8483f" stroke="#3b1d1b" stroke-width="1.2"/>
<line x1="392.5" y1="187.6" x2="392.5" y2="232.4" stroke="#5a8a6a" stroke-width="1.3"/>
<rect x="388.60" y="188.20" width="7.80" height="36.40" fill="#52a56c" stroke="#1e3326" stroke-width="1.2"/>
<line x1="405.2" y1="171.6" x2="405.2" y2="223.8" stroke="#a86060" stroke-width="1.3"/>
<rect x="401.30" y="177.60" width="7.80" height="36.80" fill="#e8483f" stroke="#3b1d1b" stroke-width="1.2"/>
<line x1="417.8" y1="207.7" x2="417.8" y2="251.2" stroke="#a86060" stroke-width="1.3"/>
<rect x="413.90" y="212.60" width="7.80" height="22.70" fill="#e8483f" stroke="#3b1d1b" stroke-width="1.2"/>
<line x1="430.3" y1="234.6" x2="430.3" y2="266.8" stroke="#a86060" stroke-width="1.3"/>
<rect x="426.40" y="237.90" width="7.80" height="24.80" fill="#e8483f" stroke="#3b1d1b" stroke-width="1.2"/>
<line x1="442.5" y1="261.5" x2="442.5" y2="306.3" stroke="#a86060" stroke-width="1.3"/>
<rect x="438.60" y="263.50" width="7.80" height="37.40" fill="#e8483f" stroke="#3b1d1b" stroke-width="1.2"/>
<line x1="454" y1="261.5" x2="454" y2="305.3" stroke="#5a8a6a" stroke-width="1.3"/>
<rect x="450.10" y="271.60" width="7.80" height="33.10" fill="#52a56c" stroke="#1e3326" stroke-width="1.2"/>
<line x1="465.5" y1="270.4" x2="465.5" y2="313.8" stroke="#5a8a6a" stroke-width="1.3"/>
<rect x="461.60" y="275.60" width="7.80" height="13.00" fill="#52a56c" stroke="#1e3326" stroke-width="1.2"/>
<line x1="477" y1="269" x2="477" y2="305.3" stroke="#a86060" stroke-width="1.3"/>
<rect x="473.10" y="277.40" width="7.80" height="27.30" fill="#e8483f" stroke="#3b1d1b" stroke-width="1.2"/>
<line x1="488.4" y1="251.5" x2="488.4" y2="320.3" stroke="#5a8a6a" stroke-width="1.3"/>
<rect x="484.50" y="297.50" width="7.80" height="3.90" fill="#52a56c" stroke="#1e3326" stroke-width="1.2"/>
<line x1="500" y1="277.6" x2="500" y2="337.5" stroke="#a86060" stroke-width="1.3"/>
<rect x="496.10" y="284.40" width="7.80" height="34.50" fill="#e8483f" stroke="#3b1d1b" stroke-width="1.2"/>
<line x1="511.5" y1="313.2" x2="511.5" y2="353.6" stroke="#a86060" stroke-width="1.3"/>
<rect x="507.60" y="320.70" width="7.80" height="25.00" fill="#e8483f" stroke="#3b1d1b" stroke-width="1.2"/>
<line x1="523.7" y1="355.6" x2="523.7" y2="377" stroke="#a86060" stroke-width="1.3"/>
<rect x="519.80" y="356.20" width="7.80" height="9.00" fill="#e8483f" stroke="#3b1d1b" stroke-width="1.2"/>
<line x1="535" y1="319.6" x2="535" y2="367" stroke="#5a8a6a" stroke-width="1.3"/>
<rect x="531.10" y="334.20" width="7.80" height="32.20" fill="#52a56c" stroke="#1e3326" stroke-width="1.2"/>
<line x1="546.3" y1="298.8" x2="546.3" y2="333.6" stroke="#5a8a6a" stroke-width="1.3"/>
<rect x="542.40" y="304.20" width="7.80" height="28.80" fill="#52a56c" stroke="#1e3326" stroke-width="1.2"/>
<line x1="557.2" y1="287.2" x2="557.2" y2="313.2" stroke="#e09a98" stroke-width="1.3"/>
<rect x="552.90" y="303.6" width="8.60" height="2.00" rx="1" fill="#d9443f"/>
<line x1="566.5" y1="306.8" x2="566.5" y2="347" stroke="#a86060" stroke-width="1.3"/>
<rect x="562.60" y="309.10" width="7.80" height="26.60" fill="#e8483f" stroke="#3b1d1b" stroke-width="1.2"/>
<line x1="578.5" y1="334.2" x2="578.5" y2="378.4" stroke="#a86060" stroke-width="1.3"/>
<rect x="574.60" y="334.80" width="7.80" height="39.80" fill="#e8483f" stroke="#3b1d1b" stroke-width="1.2"/>
<line x1="590.7" y1="364.3" x2="590.7" y2="409.9" stroke="#a86060" stroke-width="1.3"/>
<rect x="586.80" y="374.70" width="7.80" height="3.40" fill="#e8483f" stroke="#3b1d1b" stroke-width="1.2"/>
<line x1="602.8" y1="354.9" x2="602.8" y2="397.7" stroke="#5a8a6a" stroke-width="1.3"/>
<rect x="598.90" y="369.40" width="7.80" height="9.50" fill="#52a56c" stroke="#1e3326" stroke-width="1.2"/>
<line x1="615.2" y1="345.5" x2="615.2" y2="381" stroke="#a86060" stroke-width="1.3"/>
<rect x="611.30" y="363.00" width="7.80" height="16.20" fill="#e8483f" stroke="#3b1d1b" stroke-width="1.2"/>
<line x1="627.5" y1="373.6" x2="627.5" y2="427.8" stroke="#a86060" stroke-width="1.3"/>
<rect x="623.60" y="379.60" width="7.80" height="42.50" fill="#e8483f" stroke="#3b1d1b" stroke-width="1.2"/>
<line x1="639.5" y1="403" x2="639.5" y2="442.8" stroke="#a86060" stroke-width="1.3"/>
<rect x="635.60" y="407.70" width="7.80" height="18.90" fill="#e8483f" stroke="#3b1d1b" stroke-width="1.2"/>
<line x1="651.3" y1="421.9" x2="651.3" y2="467.5" stroke="#a86060" stroke-width="1.3"/>
<rect x="647.40" y="427.30" width="7.80" height="23.50" fill="#e8483f" stroke="#3b1d1b" stroke-width="1.2"/>
<line x1="663.7" y1="410.6" x2="663.7" y2="464.8" stroke="#5a8a6a" stroke-width="1.3"/>
<rect x="659.80" y="422.50" width="7.80" height="27.70" fill="#52a56c" stroke="#1e3326" stroke-width="1.2"/>
<line x1="674.4" y1="406.8" x2="674.4" y2="428" stroke="#6a9a7c" stroke-width="1.3"/>
<rect x="670.10" y="413.2" width="8.60" height="2.60" rx="1" fill="#1f2d26"/>
<line x1="687" y1="401.8" x2="687" y2="447.3" stroke="#a86060" stroke-width="1.3"/>
<rect x="683.10" y="415.80" width="7.80" height="19.60" fill="#e8483f" stroke="#3b1d1b" stroke-width="1.2"/>
<line x1="698.7" y1="382.2" x2="698.7" y2="448" stroke="#5a8a6a" stroke-width="1.3"/>
<rect x="694.80" y="392.40" width="7.80" height="41.50" fill="#52a56c" stroke="#1e3326" stroke-width="1.2"/>
<line x1="710.8" y1="384.9" x2="710.8" y2="419.7" stroke="#a86060" stroke-width="1.3"/>
<rect x="706.90" y="401.00" width="7.80" height="13.60" fill="#e8483f" stroke="#3b1d1b" stroke-width="1.2"/>
<line x1="723.4" y1="385.1" x2="723.4" y2="420.8" stroke="#5a8a6a" stroke-width="1.3"/>
<rect x="719.50" y="396.50" width="7.80" height="18.30" fill="#52a56c" stroke="#1e3326" stroke-width="1.2"/>
<line x1="735.2" y1="365" x2="735.2" y2="404.5" stroke="#5a8a6a" stroke-width="1.3"/>
<rect x="731.30" y="376.10" width="7.80" height="12.60" fill="#52a56c" stroke="#1e3326" stroke-width="1.2"/>
<line x1="746.8" y1="363" x2="746.8" y2="391.9" stroke="#a86060" stroke-width="1.3"/>
<rect x="742.90" y="375.10" width="7.80" height="3.40" fill="#e8483f" stroke="#3b1d1b" stroke-width="1.2"/>
<line x1="758.2" y1="328.8" x2="758.2" y2="378.6" stroke="#5a8a6a" stroke-width="1.3"/>
<rect x="754.30" y="331.90" width="7.80" height="46.10" fill="#52a56c" stroke="#1e3326" stroke-width="1.2"/>
<line x1="769.6" y1="275" x2="769.6" y2="332.6" stroke="#5a8a6a" stroke-width="1.3"/>
<rect x="765.70" y="285.70" width="7.80" height="46.30" fill="#52a56c" stroke="#1e3326" stroke-width="1.2"/>
<line x1="781.2" y1="281.7" x2="781.2" y2="304.5" stroke="#a86060" stroke-width="1.3"/>
<rect x="777.30" y="288.40" width="7.80" height="3.40" fill="#e8483f" stroke="#3b1d1b" stroke-width="1.2"/>
<line x1="793.3" y1="253.5" x2="793.3" y2="292.9" stroke="#5a8a6a" stroke-width="1.3"/>
<rect x="789.40" y="268.90" width="7.80" height="23.40" fill="#52a56c" stroke="#1e3326" stroke-width="1.2"/>
<line x1="805.7" y1="253.5" x2="805.7" y2="285.7" stroke="#a86060" stroke-width="1.3"/>
<rect x="801.80" y="272.30" width="7.80" height="3.40" fill="#e8483f" stroke="#3b1d1b" stroke-width="1.2"/>
<line x1="817.6" y1="268.3" x2="817.6" y2="306.3" stroke="#a86060" stroke-width="1.3"/>
<rect x="813.70" y="281.00" width="7.80" height="18.80" fill="#e8483f" stroke="#3b1d1b" stroke-width="1.2"/>
<line x1="829.5" y1="292.4" x2="829.5" y2="323.6" stroke="#a86060" stroke-width="1.3"/>
<rect x="825.60" y="301.40" width="7.80" height="16.30" fill="#e8483f" stroke="#3b1d1b" stroke-width="1.2"/>
<line x1="841.2" y1="262.9" x2="841.2" y2="318" stroke="#5a8a6a" stroke-width="1.3"/>
<rect x="837.30" y="291.80" width="7.80" height="25.60" fill="#52a56c" stroke="#1e3326" stroke-width="1.2"/>
<line x1="853.4" y1="275.3" x2="853.4" y2="308" stroke="#a86060" stroke-width="1.3"/>
<rect x="849.50" y="284.40" width="7.80" height="7.10" fill="#e8483f" stroke="#3b1d1b" stroke-width="1.2"/>
<line x1="864.6" y1="255.1" x2="864.6" y2="296.4" stroke="#5a8a6a" stroke-width="1.3"/>
<rect x="860.70" y="267.00" width="7.80" height="26.40" fill="#52a56c" stroke="#1e3326" stroke-width="1.2"/>
<line x1="876.1" y1="227" x2="876.1" y2="266.4" stroke="#5a8a6a" stroke-width="1.3"/>
<rect x="872.20" y="234.00" width="7.80" height="31.80" fill="#52a56c" stroke="#1e3326" stroke-width="1.2"/>
<line x1="887.5" y1="207.4" x2="887.5" y2="248.4" stroke="#5a8a6a" stroke-width="1.3"/>
<rect x="883.60" y="220.90" width="7.80" height="10.60" fill="#52a56c" stroke="#1e3326" stroke-width="1.2"/>
<line x1="899.2" y1="206" x2="899.2" y2="267.4" stroke="#a86060" stroke-width="1.3"/>
<rect x="895.30" y="219.60" width="7.80" height="47.20" fill="#e8483f" stroke="#3b1d1b" stroke-width="1.2"/>
<line x1="910.3" y1="247.6" x2="910.3" y2="273.1" stroke="#5a8a6a" stroke-width="1.3"/>
<rect x="906.40" y="257.60" width="7.80" height="5.50" fill="#52a56c" stroke="#1e3326" stroke-width="1.2"/>
<line x1="921.7" y1="240.4" x2="921.7" y2="264.5" stroke="#a86060" stroke-width="1.3"/>
<rect x="917.80" y="252.40" width="7.80" height="3.40" fill="#e8483f" stroke="#3b1d1b" stroke-width="1.2"/>
<line x1="933.5" y1="253" x2="933.5" y2="274.5" stroke="#a86060" stroke-width="1.3"/>
<rect x="929.60" y="254.90" width="7.80" height="6.60" fill="#e8483f" stroke="#3b1d1b" stroke-width="1.2"/>
<line x1="944.6" y1="223.5" x2="944.6" y2="262.4" stroke="#5a8a6a" stroke-width="1.3"/>
<rect x="940.70" y="237.60" width="7.80" height="24.20" fill="#52a56c" stroke="#1e3326" stroke-width="1.2"/>
<line x1="956.5" y1="237" x2="956.5" y2="273.1" stroke="#a86060" stroke-width="1.3"/>
<rect x="952.60" y="237.60" width="7.80" height="33.10" fill="#e8483f" stroke="#3b1d1b" stroke-width="1.2"/>
<line x1="969.4" y1="275.3" x2="969.4" y2="310" stroke="#a86060" stroke-width="1.3"/>
<rect x="965.50" y="277.60" width="7.80" height="21.50" fill="#e8483f" stroke="#3b1d1b" stroke-width="1.2"/>
<line x1="981.6" y1="302.5" x2="981.6" y2="341" stroke="#a86060" stroke-width="1.3"/>
<rect x="977.70" y="306.00" width="7.80" height="12.30" fill="#e8483f" stroke="#3b1d1b" stroke-width="1.2"/>
<line x1="993.4" y1="298.8" x2="993.4" y2="327.5" stroke="#5a8a6a" stroke-width="1.3"/>
<rect x="989.50" y="309.60" width="7.80" height="8.70" fill="#52a56c" stroke="#1e3326" stroke-width="1.2"/>
<line x1="1004.7" y1="284.3" x2="1004.7" y2="313.3" stroke="#5a8a6a" stroke-width="1.3"/>
<rect x="1000.80" y="284.90" width="7.80" height="27.80" fill="#52a56c" stroke="#1e3326" stroke-width="1.2"/>
<line x1="1017.4" y1="263.3" x2="1017.4" y2="295.5" stroke="#5a8a6a" stroke-width="1.3"/>
<rect x="1013.50" y="274.20" width="7.80" height="11.60" fill="#52a56c" stroke="#1e3326" stroke-width="1.2"/>
<rect x="519.8" y="341.5" width="8" height="14" fill="#d9b9b6" opacity="0.8"/>
<rect x="556" y="139" width="178" height="29" fill="#fdfdfc"/>
<rect x="320" y="388.5" width="163" height="52" fill="#fdfdfc"/>
<rect x="456" y="470.5" width="122" height="30" fill="#fdfdfc"/>
<rect x="745" y="489" width="122" height="33" fill="#fdfdfc"/>
<line x1="554.8" y1="153.2" x2="508.2" y2="153.2" stroke="#151515" stroke-width="1.7"/><path d="M498.2 153.2L508.2 148.7L508.2 157.7Z" fill="#151515"/>
<line x1="405" y1="385.5" x2="378.0" y2="259.2" stroke="#151515" stroke-width="1.7"/><path d="M375.9 249.4L382.4 258.2L373.6 260.1Z" fill="#151515"/>
<line x1="576" y1="476.9" x2="621.4" y2="446.3" stroke="#151515" stroke-width="1.7"/><path d="M629.7 440.7L623.9 450.0L618.9 442.6Z" fill="#151515"/>
<line x1="743.7" y1="505.7" x2="729.9" y2="485.5" stroke="#151515" stroke-width="1.7"/><path d="M724.2 477.3L733.6 483.0L726.2 488.1Z" fill="#151515"/>
<text x="203.1" y="61" font-family="Liberation Sans, sans-serif" font-weight="bold" font-size="34.5" fill="#111" stroke="#111" stroke-width="0.5" textLength="155.5" lengthAdjust="spacingAndGlyphs">Technical</text>
<text x="364.5" y="61" font-family="Liberation Sans, sans-serif" font-weight="bold" font-size="34.5" fill="#111" stroke="#111" stroke-width="0.5" textLength="146" lengthAdjust="spacingAndGlyphs">Analysis:</text>
<text x="515.6" y="61" font-family="Liberation Sans, sans-serif" font-weight="bold" font-size="34.5" fill="#111" stroke="#111" stroke-width="0.5" textLength="150.8" lengthAdjust="spacingAndGlyphs">Envelope</text>
<text x="673.5" y="61" font-family="Liberation Sans, sans-serif" font-weight="bold" font-size="34.5" fill="#111" stroke="#111" stroke-width="0.5" textLength="150" lengthAdjust="spacingAndGlyphs">Indicator</text>
<text x="560" y="161" font-family="Liberation Sans, sans-serif" font-size="21.6" fill="#1a1a1a" textLength="169.5" lengthAdjust="spacingAndGlyphs">Upper Band (+5%)</text>
<text x="326" y="410" font-family="Liberation Sans, sans-serif" font-size="20.6" fill="#1a1a1a" textLength="151.5" lengthAdjust="spacingAndGlyphs">Moving Average</text>
<text x="342.7" y="432.3" font-family="Liberation Sans, sans-serif" font-size="20.6" fill="#1a1a1a" textLength="118.8" lengthAdjust="spacingAndGlyphs">(Center Line)</text>
<text x="462" y="494" font-family="Liberation Sans, sans-serif" font-size="21.6" fill="#1a1a1a" textLength="111.3" lengthAdjust="spacingAndGlyphs">Price Action</text>
<text x="748" y="515" font-family="Liberation Sans, sans-serif" font-size="21.6" fill="#1a1a1a" textLength="110.4" lengthAdjust="spacingAndGlyphs">Lower Band</text>
</svg>
</body></html>
